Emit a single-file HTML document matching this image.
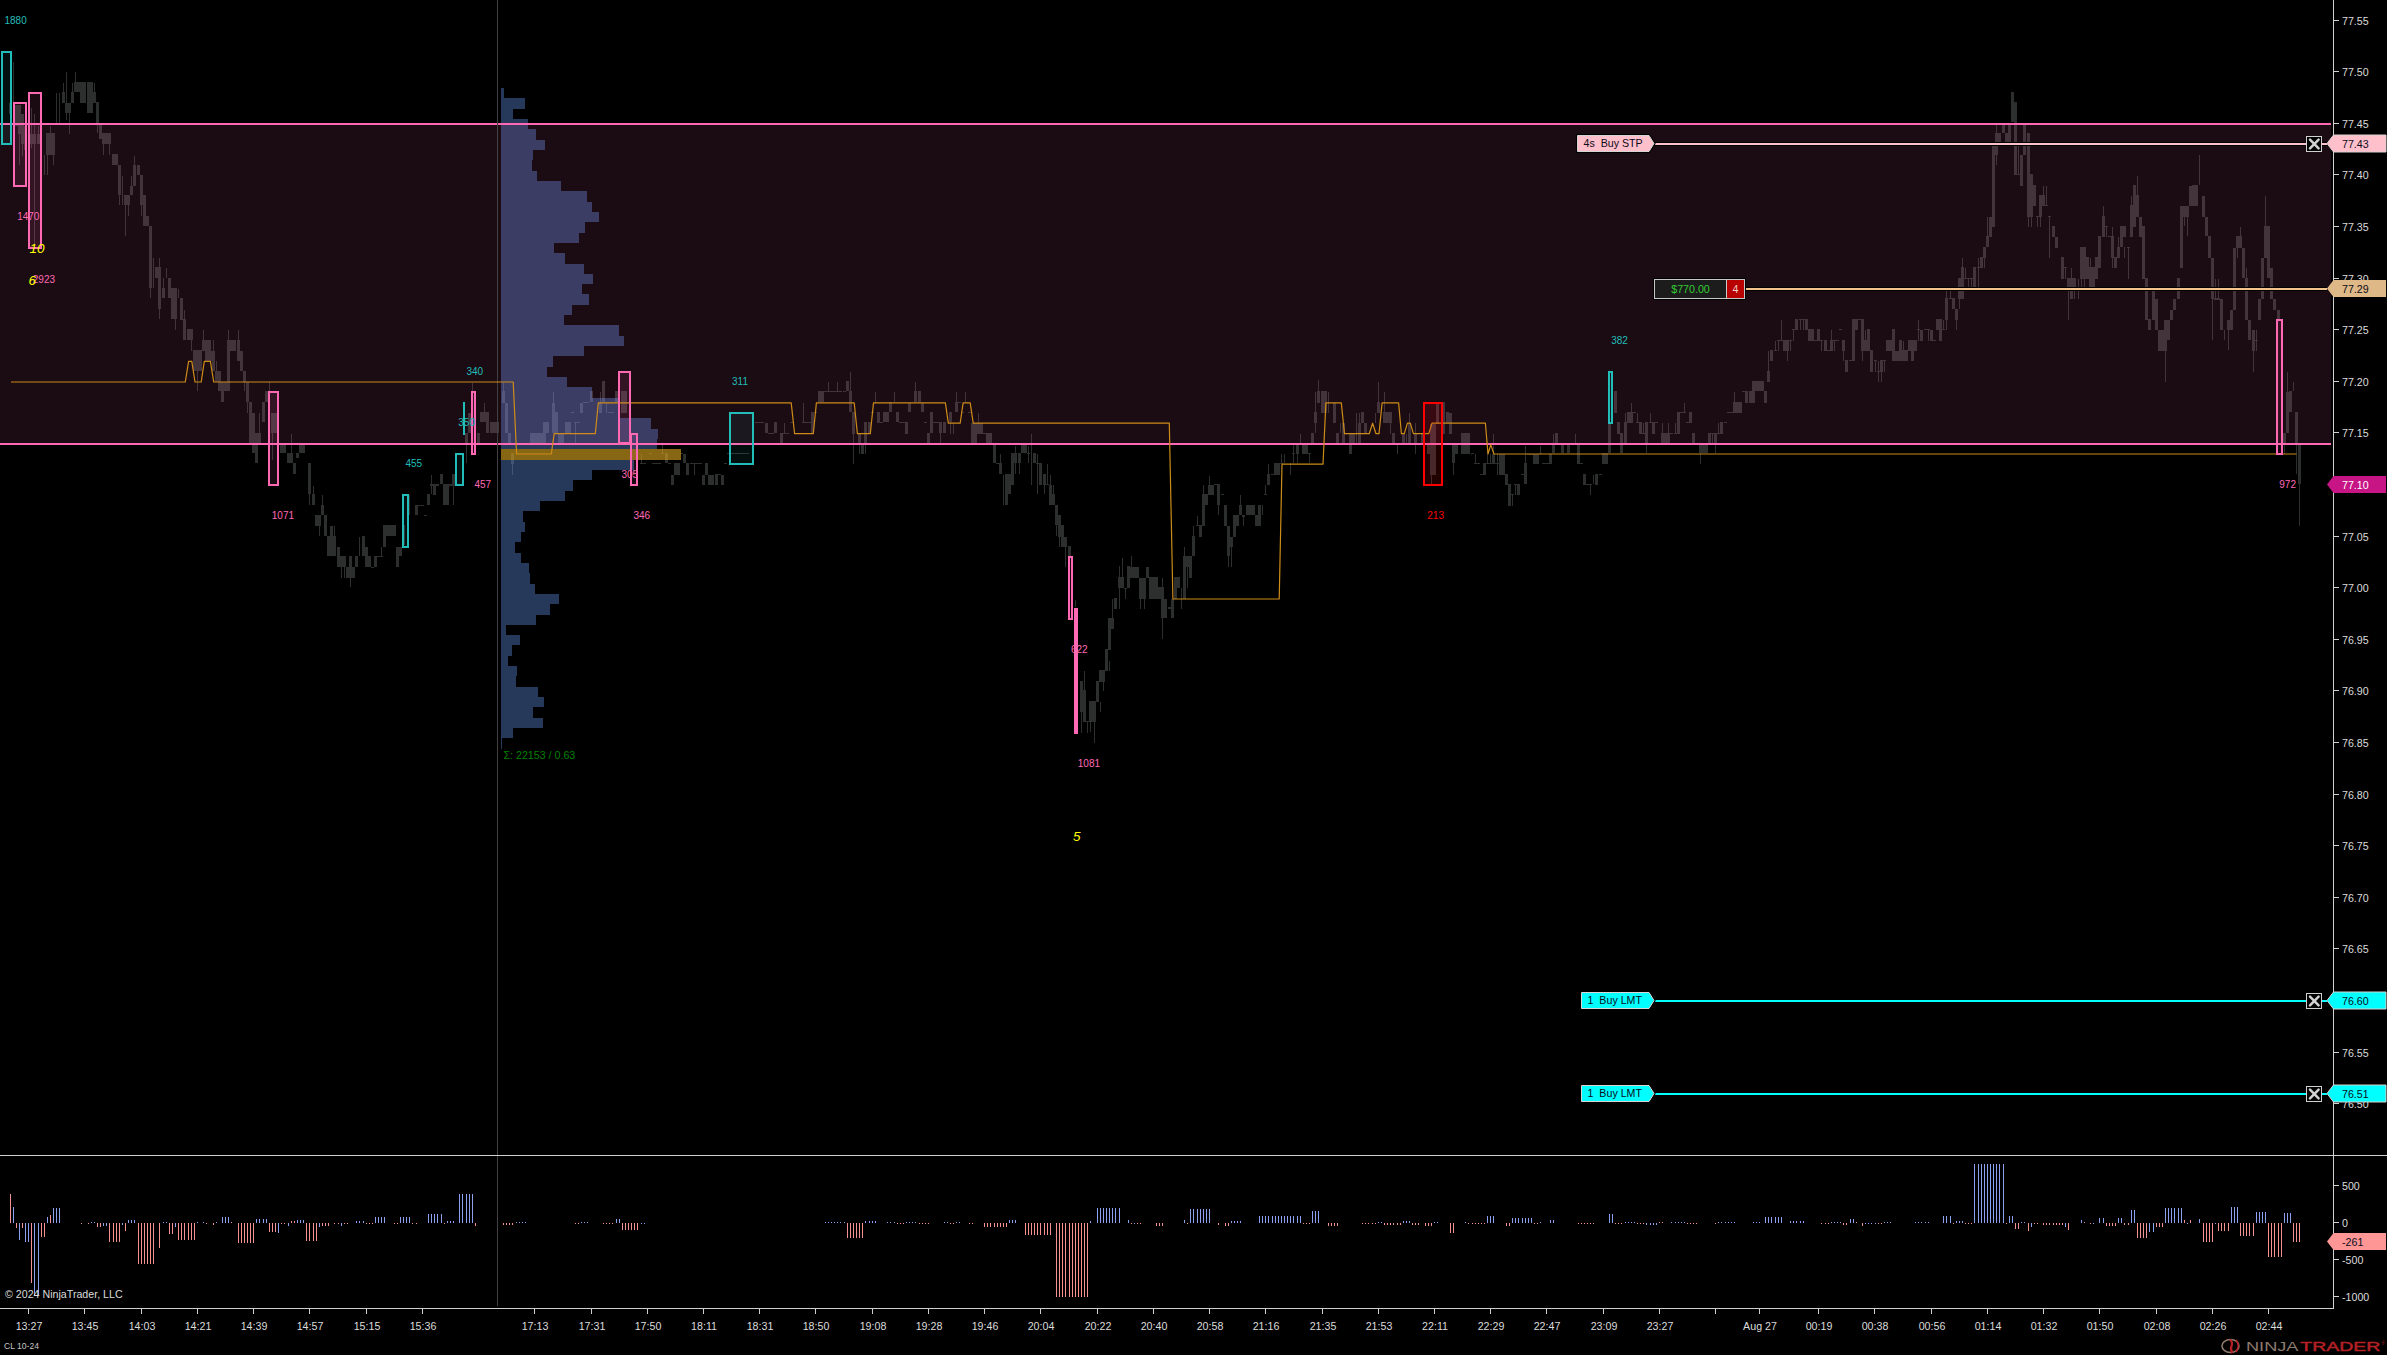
<!DOCTYPE html>
<html lang="en"><head><meta charset="utf-8"><title>CL 10-24 Chart</title>
<style>
html,body{margin:0;padding:0;background:#000;overflow:hidden}
body{width:2387px;height:1355px}
svg{display:block;font-family:"Liberation Sans", Arial, sans-serif;font-size:10.67px}
.ce{shape-rendering:crispEdges}
.ax{fill:#dcdcdc}
.pk{fill:#ff69b4;font-size:10px}.tl{fill:#22bdb8;font-size:10px}.yl{fill:#ffff00;font-style:italic;font-size:13.5px}
</style></head><body>
<svg width="2387" height="1355" viewBox="0 0 2387 1355">
<rect width="2387" height="1355" fill="#000"/>
<g class="ce" fill="#2d2e2e">
<rect x="9" y="103" width="3" height="11"/>
<rect x="15" y="105" width="3" height="21"/>
<rect x="18" y="105" width="3" height="29"/>
<rect x="21" y="114" width="3" height="30"/>
<rect x="24" y="126" width="3" height="24"/>
<rect x="30" y="134" width="3" height="10"/>
<rect x="33" y="134" width="3" height="10"/>
<rect x="37" y="134" width="3" height="10"/>
<rect x="46" y="133" width="9" height="22"/>
<rect x="62" y="92" width="3" height="11"/>
<rect x="65" y="103" width="6" height="10"/>
<rect x="71" y="92" width="3" height="11"/>
<rect x="74" y="82" width="12" height="10"/>
<rect x="80" y="92" width="6" height="11"/>
<rect x="87" y="82" width="6" height="31"/>
<rect x="93" y="92" width="3" height="11"/>
<rect x="96" y="102" width="3" height="21"/>
<rect x="99" y="124" width="3" height="15"/>
<rect x="102" y="133" width="9" height="11"/>
<rect x="112" y="154" width="6" height="11"/>
<rect x="118" y="165" width="3" height="30"/>
<rect x="124" y="195" width="6" height="10"/>
<rect x="130" y="186" width="3" height="9"/>
<rect x="133" y="165" width="3" height="21"/>
<rect x="137" y="165" width="3" height="10"/>
<rect x="140" y="175" width="3" height="30"/>
<rect x="143" y="195" width="3" height="21"/>
<rect x="143" y="216" width="6" height="10"/>
<rect x="149" y="226" width="3" height="62"/>
<rect x="155" y="267" width="6" height="11"/>
<rect x="158" y="278" width="3" height="31"/>
<rect x="162" y="288" width="3" height="10"/>
<rect x="168" y="278" width="3" height="20"/>
<rect x="171" y="288" width="6" height="31"/>
<rect x="180" y="298" width="3" height="21"/>
<rect x="183" y="319" width="3" height="11"/>
<rect x="13" y="62" width="1" height="52"/>
<rect x="19" y="126" width="1" height="39"/>
<rect x="22" y="144" width="1" height="12"/>
<rect x="22" y="126" width="1" height="30"/>
<rect x="34" y="114" width="1" height="131"/>
<rect x="38" y="126" width="1" height="18"/>
<rect x="31" y="108" width="1" height="40"/>
<rect x="44" y="155" width="1" height="20"/>
<rect x="47" y="155" width="1" height="20"/>
<rect x="53" y="155" width="1" height="10"/>
<rect x="50" y="126" width="1" height="7"/>
<rect x="56" y="93" width="1" height="30"/>
<rect x="59" y="93" width="1" height="30"/>
<rect x="63" y="83" width="1" height="9"/>
<rect x="66" y="72" width="1" height="48"/>
<rect x="69" y="113" width="1" height="21"/>
<rect x="75" y="72" width="1" height="10"/>
<rect x="72" y="83" width="1" height="9"/>
<rect x="94" y="83" width="1" height="9"/>
<rect x="97" y="123" width="1" height="10"/>
<rect x="103" y="144" width="1" height="11"/>
<rect x="109" y="144" width="1" height="11"/>
<rect x="119" y="195" width="1" height="10"/>
<rect x="122" y="176" width="1" height="29"/>
<rect x="125" y="205" width="1" height="31"/>
<rect x="128" y="205" width="1" height="11"/>
<rect x="131" y="176" width="1" height="10"/>
<rect x="134" y="156" width="1" height="9"/>
<rect x="141" y="205" width="1" height="11"/>
<rect x="144" y="195" width="1" height="11"/>
<rect x="150" y="288" width="1" height="10"/>
<rect x="153" y="258" width="1" height="30"/>
<rect x="159" y="258" width="1" height="61"/>
<rect x="166" y="268" width="1" height="10"/>
<rect x="163" y="278" width="1" height="10"/>
<rect x="175" y="319" width="1" height="11"/>
<rect x="178" y="289" width="1" height="9"/>
<rect x="180" y="310" width="3" height="10"/>
<rect x="183" y="320" width="3" height="20"/>
<rect x="187" y="329" width="6" height="11"/>
<rect x="193" y="350" width="9" height="21"/>
<rect x="202" y="340" width="9" height="11"/>
<rect x="205" y="351" width="10" height="10"/>
<rect x="212" y="351" width="3" height="20"/>
<rect x="215" y="371" width="6" height="11"/>
<rect x="218" y="382" width="12" height="9"/>
<rect x="221" y="391" width="3" height="11"/>
<rect x="227" y="340" width="3" height="42"/>
<rect x="230" y="340" width="6" height="11"/>
<rect x="237" y="340" width="3" height="21"/>
<rect x="240" y="351" width="3" height="20"/>
<rect x="243" y="371" width="3" height="11"/>
<rect x="246" y="382" width="3" height="20"/>
<rect x="249" y="402" width="3" height="11"/>
<rect x="249" y="413" width="6" height="31"/>
<rect x="252" y="433" width="6" height="20"/>
<rect x="255" y="453" width="3" height="10"/>
<rect x="258" y="433" width="3" height="11"/>
<rect x="262" y="402" width="3" height="20"/>
<rect x="265" y="391" width="3" height="11"/>
<rect x="271" y="413" width="6" height="20"/>
<rect x="280" y="445" width="6" height="8"/>
<rect x="287" y="453" width="6" height="10"/>
<rect x="293" y="463" width="3" height="11"/>
<rect x="296" y="453" width="3" height="5"/>
<rect x="299" y="445" width="6" height="8"/>
<rect x="308" y="463" width="3" height="31"/>
<rect x="312" y="494" width="3" height="11"/>
<rect x="315" y="515" width="6" height="11"/>
<rect x="321" y="505" width="3" height="10"/>
<rect x="324" y="515" width="3" height="21"/>
<rect x="327" y="536" width="9" height="20"/>
<rect x="330" y="526" width="3" height="10"/>
<rect x="337" y="556" width="9" height="11"/>
<rect x="337" y="547" width="3" height="9"/>
<rect x="346" y="567" width="9" height="11"/>
<rect x="349" y="556" width="3" height="11"/>
<rect x="355" y="556" width="3" height="11"/>
<rect x="362" y="536" width="3" height="11"/>
<rect x="362" y="547" width="6" height="9"/>
<rect x="365" y="556" width="6" height="11"/>
<rect x="371" y="567" width="3" height="1"/>
<rect x="374" y="556" width="3" height="11"/>
<rect x="377" y="556" width="6" height="1"/>
<rect x="383" y="525" width="7" height="11"/>
<rect x="383" y="536" width="3" height="11"/>
<rect x="390" y="525" width="6" height="11"/>
<rect x="396" y="547" width="6" height="9"/>
<rect x="396" y="556" width="3" height="11"/>
<rect x="402" y="525" width="3" height="20"/>
<rect x="415" y="505" width="3" height="10"/>
<rect x="415" y="505" width="9" height="1"/>
<rect x="424" y="515" width="3" height="1"/>
<rect x="427" y="494" width="3" height="11"/>
<rect x="430" y="484" width="9" height="2"/>
<rect x="433" y="484" width="3" height="11"/>
<rect x="440" y="474" width="3" height="10"/>
<rect x="443" y="484" width="6" height="21"/>
<rect x="449" y="484" width="6" height="2"/>
<rect x="452" y="474" width="3" height="10"/>
<rect x="465" y="433" width="3" height="11"/>
<rect x="468" y="413" width="3" height="20"/>
<rect x="477" y="433" width="3" height="11"/>
<rect x="480" y="412" width="9" height="10"/>
<rect x="486" y="422" width="3" height="11"/>
<rect x="490" y="422" width="9" height="11"/>
<rect x="184" y="310" width="1" height="10"/>
<rect x="191" y="340" width="1" height="11"/>
<rect x="203" y="330" width="1" height="10"/>
<rect x="197" y="371" width="1" height="20"/>
<rect x="213" y="340" width="1" height="11"/>
<rect x="216" y="361" width="1" height="10"/>
<rect x="228" y="330" width="1" height="10"/>
<rect x="238" y="330" width="1" height="10"/>
<rect x="222" y="391" width="1" height="11"/>
<rect x="244" y="382" width="1" height="9"/>
<rect x="247" y="402" width="1" height="11"/>
<rect x="253" y="413" width="1" height="20"/>
<rect x="259" y="413" width="1" height="20"/>
<rect x="256" y="453" width="1" height="10"/>
<rect x="269" y="382" width="1" height="9"/>
<rect x="272" y="413" width="1" height="47"/>
<rect x="291" y="434" width="1" height="19"/>
<rect x="294" y="463" width="1" height="11"/>
<rect x="309" y="463" width="1" height="42"/>
<rect x="313" y="486" width="1" height="8"/>
<rect x="319" y="526" width="1" height="10"/>
<rect x="322" y="495" width="1" height="10"/>
<rect x="331" y="526" width="1" height="10"/>
<rect x="334" y="526" width="1" height="10"/>
<rect x="341" y="567" width="1" height="11"/>
<rect x="344" y="567" width="1" height="11"/>
<rect x="350" y="578" width="1" height="9"/>
<rect x="359" y="537" width="1" height="19"/>
<rect x="363" y="536" width="1" height="11"/>
<rect x="381" y="547" width="1" height="9"/>
<rect x="384" y="536" width="1" height="11"/>
<rect x="409" y="495" width="1" height="20"/>
<rect x="416" y="505" width="1" height="10"/>
<rect x="431" y="475" width="1" height="19"/>
<rect x="441" y="474" width="1" height="10"/>
<rect x="453" y="484" width="1" height="21"/>
<rect x="466" y="444" width="1" height="19"/>
<rect x="469" y="413" width="1" height="8"/>
<rect x="472" y="383" width="1" height="8"/>
<rect x="484" y="403" width="1" height="9"/>
<rect x="478" y="433" width="1" height="11"/>
<rect x="496" y="422" width="3" height="11"/>
<rect x="502" y="391" width="3" height="12"/>
<rect x="505" y="403" width="3" height="30"/>
<rect x="508" y="433" width="3" height="11"/>
<rect x="511" y="453" width="3" height="11"/>
<rect x="530" y="433" width="16" height="11"/>
<rect x="543" y="422" width="6" height="11"/>
<rect x="552" y="403" width="3" height="30"/>
<rect x="555" y="412" width="3" height="21"/>
<rect x="558" y="433" width="3" height="11"/>
<rect x="561" y="433" width="3" height="11"/>
<rect x="565" y="422" width="6" height="11"/>
<rect x="571" y="412" width="3" height="1"/>
<rect x="574" y="422" width="6" height="1"/>
<rect x="580" y="403" width="3" height="10"/>
<rect x="583" y="402" width="6" height="1"/>
<rect x="590" y="391" width="3" height="11"/>
<rect x="599" y="403" width="3" height="10"/>
<rect x="602" y="381" width="3" height="21"/>
<rect x="608" y="412" width="6" height="1"/>
<rect x="615" y="391" width="3" height="11"/>
<rect x="621" y="391" width="6" height="22"/>
<rect x="640" y="463" width="6" height="1"/>
<rect x="649" y="453" width="3" height="1"/>
<rect x="652" y="463" width="9" height="1"/>
<rect x="661" y="453" width="3" height="1"/>
<rect x="665" y="453" width="3" height="10"/>
<rect x="668" y="463" width="3" height="1"/>
<rect x="671" y="475" width="3" height="10"/>
<rect x="674" y="463" width="6" height="12"/>
<rect x="680" y="453" width="3" height="1"/>
<rect x="683" y="454" width="3" height="9"/>
<rect x="686" y="463" width="3" height="12"/>
<rect x="690" y="463" width="12" height="1"/>
<rect x="705" y="463" width="3" height="12"/>
<rect x="702" y="475" width="3" height="10"/>
<rect x="708" y="475" width="6" height="10"/>
<rect x="715" y="474" width="3" height="1"/>
<rect x="715" y="475" width="3" height="10"/>
<rect x="718" y="474" width="3" height="1"/>
<rect x="721" y="475" width="3" height="10"/>
<rect x="724" y="463" width="3" height="1"/>
<rect x="727" y="453" width="3" height="1"/>
<rect x="730" y="453" width="19" height="1"/>
<rect x="755" y="422" width="9" height="1"/>
<rect x="765" y="423" width="3" height="10"/>
<rect x="768" y="433" width="6" height="1"/>
<rect x="774" y="422" width="3" height="11"/>
<rect x="780" y="433" width="3" height="11"/>
<rect x="783" y="433" width="6" height="1"/>
<rect x="790" y="422" width="3" height="1"/>
<rect x="802" y="422" width="9" height="1"/>
<rect x="811" y="412" width="3" height="21"/>
<rect x="814" y="412" width="3" height="1"/>
<rect x="818" y="391" width="6" height="11"/>
<rect x="824" y="391" width="12" height="1"/>
<rect x="512" y="453" width="1" height="22"/>
<rect x="553" y="392" width="1" height="11"/>
<rect x="575" y="423" width="1" height="21"/>
<rect x="600" y="392" width="1" height="11"/>
<rect x="606" y="403" width="1" height="10"/>
<rect x="641" y="454" width="1" height="9"/>
<rect x="662" y="445" width="1" height="9"/>
<rect x="694" y="463" width="1" height="12"/>
<rect x="784" y="423" width="1" height="10"/>
<rect x="803" y="403" width="1" height="20"/>
<rect x="828" y="382" width="1" height="9"/>
<rect x="503" y="382" width="1" height="9"/>
<rect x="830" y="391" width="12" height="1"/>
<rect x="843" y="391" width="3" height="1"/>
<rect x="846" y="381" width="3" height="10"/>
<rect x="849" y="391" width="3" height="21"/>
<rect x="852" y="412" width="3" height="22"/>
<rect x="858" y="434" width="3" height="10"/>
<rect x="861" y="444" width="3" height="10"/>
<rect x="864" y="422" width="3" height="22"/>
<rect x="868" y="422" width="3" height="12"/>
<rect x="871" y="412" width="3" height="1"/>
<rect x="877" y="412" width="3" height="10"/>
<rect x="877" y="422" width="6" height="1"/>
<rect x="883" y="412" width="6" height="10"/>
<rect x="889" y="402" width="3" height="10"/>
<rect x="896" y="412" width="3" height="10"/>
<rect x="899" y="422" width="6" height="1"/>
<rect x="905" y="422" width="3" height="12"/>
<rect x="908" y="403" width="3" height="9"/>
<rect x="914" y="391" width="3" height="11"/>
<rect x="918" y="391" width="3" height="11"/>
<rect x="921" y="403" width="3" height="9"/>
<rect x="924" y="422" width="3" height="1"/>
<rect x="927" y="433" width="3" height="10"/>
<rect x="930" y="412" width="3" height="21"/>
<rect x="933" y="422" width="6" height="1"/>
<rect x="939" y="422" width="3" height="11"/>
<rect x="943" y="422" width="3" height="11"/>
<rect x="949" y="412" width="3" height="10"/>
<rect x="955" y="402" width="3" height="10"/>
<rect x="958" y="402" width="3" height="1"/>
<rect x="961" y="412" width="3" height="1"/>
<rect x="968" y="412" width="3" height="1"/>
<rect x="971" y="423" width="6" height="20"/>
<rect x="977" y="423" width="6" height="11"/>
<rect x="983" y="433" width="9" height="1"/>
<rect x="986" y="434" width="3" height="9"/>
<rect x="989" y="434" width="3" height="9"/>
<rect x="993" y="445" width="3" height="18"/>
<rect x="996" y="463" width="3" height="1"/>
<rect x="999" y="463" width="3" height="11"/>
<rect x="1005" y="494" width="3" height="11"/>
<rect x="1005" y="474" width="6" height="20"/>
<rect x="1011" y="463" width="3" height="22"/>
<rect x="1011" y="453" width="6" height="10"/>
<rect x="1018" y="453" width="3" height="10"/>
<rect x="1021" y="445" width="6" height="8"/>
<rect x="1027" y="453" width="3" height="1"/>
<rect x="1033" y="453" width="3" height="10"/>
<rect x="1036" y="463" width="3" height="1"/>
<rect x="1039" y="463" width="3" height="22"/>
<rect x="1043" y="474" width="3" height="11"/>
<rect x="1046" y="484" width="3" height="1"/>
<rect x="1049" y="485" width="3" height="20"/>
<rect x="1052" y="494" width="3" height="11"/>
<rect x="1055" y="505" width="3" height="20"/>
<rect x="1058" y="515" width="3" height="10"/>
<rect x="1061" y="525" width="3" height="12"/>
<rect x="1064" y="546" width="3" height="1"/>
<rect x="1068" y="546" width="3" height="10"/>
<rect x="837" y="382" width="1" height="9"/>
<rect x="850" y="372" width="1" height="19"/>
<rect x="853" y="434" width="1" height="30"/>
<rect x="859" y="444" width="1" height="10"/>
<rect x="865" y="444" width="1" height="10"/>
<rect x="875" y="392" width="1" height="11"/>
<rect x="894" y="392" width="1" height="10"/>
<rect x="915" y="382" width="1" height="9"/>
<rect x="940" y="433" width="1" height="10"/>
<rect x="950" y="422" width="1" height="12"/>
<rect x="953" y="423" width="1" height="11"/>
<rect x="956" y="392" width="1" height="10"/>
<rect x="965" y="392" width="1" height="10"/>
<rect x="978" y="413" width="1" height="10"/>
<rect x="1000" y="454" width="1" height="9"/>
<rect x="1003" y="475" width="1" height="30"/>
<rect x="1015" y="446" width="1" height="28"/>
<rect x="1019" y="463" width="1" height="11"/>
<rect x="1028" y="446" width="1" height="17"/>
<rect x="1031" y="434" width="1" height="51"/>
<rect x="1037" y="454" width="1" height="40"/>
<rect x="1044" y="485" width="1" height="9"/>
<rect x="1047" y="464" width="1" height="21"/>
<rect x="1050" y="475" width="1" height="10"/>
<rect x="1053" y="485" width="1" height="9"/>
<rect x="1056" y="525" width="1" height="11"/>
<rect x="1059" y="525" width="1" height="22"/>
<rect x="1062" y="537" width="1" height="10"/>
<rect x="1065" y="537" width="1" height="23"/>
<rect x="1058" y="515" width="3" height="22"/>
<rect x="1061" y="525" width="3" height="22"/>
<rect x="1064" y="537" width="3" height="10"/>
<rect x="1068" y="546" width="3" height="10"/>
<rect x="1080" y="681" width="3" height="9"/>
<rect x="1080" y="690" width="6" height="22"/>
<rect x="1083" y="701" width="3" height="21"/>
<rect x="1086" y="721" width="3" height="1"/>
<rect x="1089" y="701" width="7" height="21"/>
<rect x="1096" y="681" width="3" height="21"/>
<rect x="1099" y="670" width="6" height="12"/>
<rect x="1105" y="649" width="3" height="22"/>
<rect x="1108" y="628" width="3" height="22"/>
<rect x="1108" y="618" width="6" height="11"/>
<rect x="1114" y="598" width="3" height="11"/>
<rect x="1118" y="577" width="6" height="11"/>
<rect x="1124" y="588" width="3" height="1"/>
<rect x="1127" y="566" width="3" height="22"/>
<rect x="1130" y="567" width="9" height="11"/>
<rect x="1139" y="578" width="7" height="21"/>
<rect x="1146" y="567" width="3" height="11"/>
<rect x="1149" y="577" width="9" height="22"/>
<rect x="1158" y="587" width="6" height="12"/>
<rect x="1161" y="599" width="6" height="19"/>
<rect x="1168" y="607" width="3" height="2"/>
<rect x="1171" y="599" width="3" height="19"/>
<rect x="1174" y="577" width="6" height="11"/>
<rect x="1174" y="588" width="3" height="11"/>
<rect x="1183" y="556" width="3" height="43"/>
<rect x="1186" y="556" width="6" height="11"/>
<rect x="1189" y="567" width="3" height="11"/>
<rect x="1192" y="536" width="3" height="20"/>
<rect x="1196" y="525" width="6" height="1"/>
<rect x="1199" y="526" width="3" height="11"/>
<rect x="1202" y="494" width="3" height="32"/>
<rect x="1205" y="494" width="3" height="11"/>
<rect x="1208" y="485" width="6" height="10"/>
<rect x="1214" y="484" width="6" height="1"/>
<rect x="1217" y="485" width="3" height="20"/>
<rect x="1221" y="494" width="3" height="1"/>
<rect x="1224" y="505" width="3" height="21"/>
<rect x="1227" y="526" width="3" height="30"/>
<rect x="1230" y="537" width="3" height="10"/>
<rect x="1233" y="515" width="3" height="22"/>
<rect x="1236" y="515" width="3" height="11"/>
<rect x="1239" y="505" width="3" height="10"/>
<rect x="1242" y="515" width="3" height="2"/>
<rect x="1246" y="505" width="9" height="10"/>
<rect x="1255" y="515" width="6" height="11"/>
<rect x="1258" y="505" width="3" height="10"/>
<rect x="1264" y="494" width="3" height="1"/>
<rect x="1267" y="474" width="3" height="11"/>
<rect x="1065" y="547" width="1" height="20"/>
<rect x="1059" y="515" width="1" height="10"/>
<rect x="1075" y="600" width="1" height="7"/>
<rect x="1084" y="671" width="1" height="19"/>
<rect x="1081" y="712" width="1" height="21"/>
<rect x="1087" y="722" width="1" height="11"/>
<rect x="1090" y="722" width="1" height="10"/>
<rect x="1094" y="722" width="1" height="21"/>
<rect x="1100" y="702" width="1" height="10"/>
<rect x="1103" y="682" width="1" height="9"/>
<rect x="1109" y="661" width="1" height="10"/>
<rect x="1112" y="599" width="1" height="19"/>
<rect x="1119" y="566" width="1" height="43"/>
<rect x="1125" y="588" width="1" height="11"/>
<rect x="1122" y="558" width="1" height="19"/>
<rect x="1131" y="556" width="1" height="11"/>
<rect x="1140" y="599" width="1" height="10"/>
<rect x="1144" y="599" width="1" height="10"/>
<rect x="1162" y="618" width="1" height="21"/>
<rect x="1162" y="578" width="1" height="10"/>
<rect x="1181" y="588" width="1" height="21"/>
<rect x="1184" y="547" width="1" height="9"/>
<rect x="1187" y="567" width="1" height="21"/>
<rect x="1193" y="526" width="1" height="11"/>
<rect x="1197" y="516" width="1" height="9"/>
<rect x="1203" y="485" width="1" height="9"/>
<rect x="1209" y="476" width="1" height="9"/>
<rect x="1218" y="505" width="1" height="10"/>
<rect x="1228" y="556" width="1" height="11"/>
<rect x="1231" y="547" width="1" height="20"/>
<rect x="1240" y="495" width="1" height="10"/>
<rect x="1243" y="517" width="1" height="9"/>
<rect x="1262" y="505" width="1" height="10"/>
<rect x="1265" y="485" width="1" height="9"/>
<rect x="1268" y="464" width="1" height="10"/>
<rect x="1271" y="474" width="3" height="1"/>
<rect x="1274" y="464" width="6" height="11"/>
<rect x="1274" y="463" width="9" height="1"/>
<rect x="1292" y="453" width="3" height="1"/>
<rect x="1296" y="445" width="3" height="9"/>
<rect x="1302" y="445" width="6" height="9"/>
<rect x="1308" y="453" width="3" height="1"/>
<rect x="1311" y="433" width="3" height="10"/>
<rect x="1314" y="412" width="3" height="11"/>
<rect x="1317" y="391" width="3" height="12"/>
<rect x="1321" y="391" width="6" height="22"/>
<rect x="1333" y="403" width="3" height="20"/>
<rect x="1336" y="433" width="3" height="10"/>
<rect x="1342" y="423" width="3" height="20"/>
<rect x="1349" y="434" width="3" height="20"/>
<rect x="1349" y="434" width="6" height="9"/>
<rect x="1358" y="423" width="3" height="20"/>
<rect x="1361" y="412" width="3" height="11"/>
<rect x="1364" y="423" width="3" height="11"/>
<rect x="1377" y="402" width="3" height="11"/>
<rect x="1383" y="412" width="9" height="11"/>
<rect x="1392" y="433" width="3" height="10"/>
<rect x="1402" y="434" width="3" height="9"/>
<rect x="1408" y="423" width="3" height="20"/>
<rect x="1414" y="434" width="3" height="9"/>
<rect x="1421" y="434" width="3" height="9"/>
<rect x="1427" y="445" width="3" height="9"/>
<rect x="1430" y="424" width="6" height="51"/>
<rect x="1436" y="404" width="3" height="20"/>
<rect x="1442" y="402" width="3" height="32"/>
<rect x="1446" y="412" width="3" height="11"/>
<rect x="1449" y="413" width="3" height="21"/>
<rect x="1452" y="445" width="6" height="9"/>
<rect x="1452" y="454" width="3" height="9"/>
<rect x="1461" y="433" width="9" height="21"/>
<rect x="1471" y="453" width="3" height="1"/>
<rect x="1474" y="463" width="6" height="1"/>
<rect x="1480" y="474" width="6" height="1"/>
<rect x="1483" y="463" width="3" height="12"/>
<rect x="1486" y="463" width="13" height="1"/>
<rect x="1492" y="454" width="3" height="9"/>
<rect x="1499" y="454" width="6" height="21"/>
<rect x="1505" y="474" width="3" height="11"/>
<rect x="1508" y="485" width="3" height="15"/>
<rect x="1281" y="454" width="1" height="9"/>
<rect x="1284" y="454" width="1" height="9"/>
<rect x="1290" y="463" width="1" height="12"/>
<rect x="1293" y="445" width="1" height="18"/>
<rect x="1297" y="445" width="1" height="18"/>
<rect x="1300" y="434" width="1" height="11"/>
<rect x="1309" y="454" width="1" height="9"/>
<rect x="1315" y="392" width="1" height="41"/>
<rect x="1318" y="380" width="1" height="11"/>
<rect x="1328" y="392" width="1" height="21"/>
<rect x="1340" y="423" width="1" height="10"/>
<rect x="1356" y="413" width="1" height="30"/>
<rect x="1359" y="413" width="1" height="10"/>
<rect x="1375" y="413" width="1" height="10"/>
<rect x="1378" y="382" width="1" height="20"/>
<rect x="1384" y="392" width="1" height="20"/>
<rect x="1390" y="413" width="1" height="21"/>
<rect x="1397" y="445" width="1" height="9"/>
<rect x="1406" y="434" width="1" height="9"/>
<rect x="1409" y="413" width="1" height="21"/>
<rect x="1415" y="423" width="1" height="31"/>
<rect x="1431" y="454" width="1" height="30"/>
<rect x="1453" y="463" width="1" height="12"/>
<rect x="1475" y="454" width="1" height="9"/>
<rect x="1487" y="445" width="1" height="18"/>
<rect x="1490" y="454" width="1" height="9"/>
<rect x="1493" y="434" width="1" height="20"/>
<rect x="1497" y="454" width="1" height="21"/>
<rect x="1499" y="454" width="3" height="9"/>
<rect x="1499" y="463" width="6" height="11"/>
<rect x="1505" y="474" width="3" height="10"/>
<rect x="1508" y="484" width="3" height="22"/>
<rect x="1511" y="494" width="3" height="1"/>
<rect x="1514" y="484" width="3" height="1"/>
<rect x="1517" y="484" width="3" height="11"/>
<rect x="1521" y="474" width="3" height="1"/>
<rect x="1524" y="463" width="3" height="21"/>
<rect x="1527" y="454" width="6" height="1"/>
<rect x="1533" y="454" width="6" height="10"/>
<rect x="1539" y="453" width="3" height="1"/>
<rect x="1542" y="463" width="7" height="1"/>
<rect x="1549" y="454" width="3" height="10"/>
<rect x="1552" y="445" width="3" height="8"/>
<rect x="1555" y="433" width="3" height="10"/>
<rect x="1561" y="445" width="3" height="8"/>
<rect x="1567" y="445" width="3" height="8"/>
<rect x="1577" y="445" width="3" height="19"/>
<rect x="1580" y="463" width="3" height="1"/>
<rect x="1583" y="474" width="3" height="11"/>
<rect x="1586" y="484" width="6" height="1"/>
<rect x="1595" y="474" width="3" height="11"/>
<rect x="1599" y="474" width="3" height="1"/>
<rect x="1602" y="453" width="6" height="11"/>
<rect x="1608" y="424" width="3" height="29"/>
<rect x="1614" y="391" width="3" height="22"/>
<rect x="1617" y="422" width="3" height="12"/>
<rect x="1620" y="433" width="3" height="20"/>
<rect x="1624" y="422" width="3" height="21"/>
<rect x="1627" y="412" width="6" height="11"/>
<rect x="1633" y="412" width="3" height="1"/>
<rect x="1636" y="422" width="3" height="1"/>
<rect x="1639" y="422" width="3" height="12"/>
<rect x="1642" y="433" width="3" height="1"/>
<rect x="1645" y="422" width="3" height="21"/>
<rect x="1649" y="422" width="9" height="1"/>
<rect x="1652" y="423" width="3" height="11"/>
<rect x="1661" y="433" width="9" height="10"/>
<rect x="1670" y="433" width="3" height="1"/>
<rect x="1674" y="433" width="3" height="1"/>
<rect x="1677" y="412" width="3" height="22"/>
<rect x="1680" y="412" width="6" height="1"/>
<rect x="1689" y="412" width="3" height="11"/>
<rect x="1686" y="422" width="3" height="1"/>
<rect x="1692" y="433" width="3" height="10"/>
<rect x="1699" y="445" width="9" height="8"/>
<rect x="1708" y="433" width="3" height="10"/>
<rect x="1714" y="433" width="3" height="10"/>
<rect x="1711" y="433" width="12" height="1"/>
<rect x="1720" y="422" width="3" height="12"/>
<rect x="1724" y="422" width="3" height="1"/>
<rect x="1727" y="412" width="6" height="1"/>
<rect x="1733" y="402" width="9" height="11"/>
<rect x="1742" y="391" width="3" height="1"/>
<rect x="1745" y="391" width="3" height="12"/>
<rect x="1749" y="391" width="6" height="12"/>
<rect x="1752" y="381" width="6" height="10"/>
<rect x="1758" y="381" width="6" height="1"/>
<rect x="1761" y="381" width="3" height="10"/>
<rect x="1764" y="391" width="3" height="12"/>
<rect x="1767" y="381" width="3" height="1"/>
<rect x="1512" y="495" width="1" height="11"/>
<rect x="1515" y="484" width="1" height="11"/>
<rect x="1525" y="446" width="1" height="17"/>
<rect x="1540" y="446" width="1" height="7"/>
<rect x="1553" y="434" width="1" height="11"/>
<rect x="1575" y="434" width="1" height="9"/>
<rect x="1590" y="485" width="1" height="10"/>
<rect x="1593" y="475" width="1" height="9"/>
<rect x="1625" y="413" width="1" height="9"/>
<rect x="1631" y="403" width="1" height="9"/>
<rect x="1637" y="413" width="1" height="9"/>
<rect x="1643" y="423" width="1" height="10"/>
<rect x="1646" y="445" width="1" height="8"/>
<rect x="1650" y="413" width="1" height="9"/>
<rect x="1662" y="423" width="1" height="10"/>
<rect x="1668" y="423" width="1" height="10"/>
<rect x="1675" y="423" width="1" height="10"/>
<rect x="1684" y="403" width="1" height="9"/>
<rect x="1700" y="453" width="1" height="11"/>
<rect x="1712" y="434" width="1" height="9"/>
<rect x="1715" y="445" width="1" height="8"/>
<rect x="1718" y="423" width="1" height="10"/>
<rect x="1734" y="392" width="1" height="10"/>
<rect x="1758" y="381" width="3" height="10"/>
<rect x="1764" y="391" width="3" height="12"/>
<rect x="1767" y="371" width="3" height="11"/>
<rect x="1770" y="350" width="3" height="11"/>
<rect x="1774" y="350" width="3" height="1"/>
<rect x="1777" y="340" width="6" height="1"/>
<rect x="1783" y="340" width="6" height="11"/>
<rect x="1789" y="340" width="3" height="1"/>
<rect x="1792" y="329" width="3" height="1"/>
<rect x="1795" y="319" width="3" height="11"/>
<rect x="1799" y="319" width="9" height="1"/>
<rect x="1805" y="320" width="3" height="10"/>
<rect x="1808" y="329" width="6" height="12"/>
<rect x="1814" y="340" width="3" height="1"/>
<rect x="1817" y="329" width="3" height="12"/>
<rect x="1820" y="340" width="3" height="1"/>
<rect x="1824" y="340" width="3" height="11"/>
<rect x="1827" y="350" width="3" height="1"/>
<rect x="1830" y="340" width="3" height="11"/>
<rect x="1833" y="340" width="6" height="1"/>
<rect x="1839" y="329" width="3" height="1"/>
<rect x="1842" y="340" width="3" height="11"/>
<rect x="1845" y="360" width="3" height="12"/>
<rect x="1849" y="360" width="6" height="1"/>
<rect x="1852" y="319" width="3" height="41"/>
<rect x="1855" y="319" width="3" height="11"/>
<rect x="1858" y="319" width="6" height="1"/>
<rect x="1861" y="320" width="3" height="31"/>
<rect x="1864" y="340" width="6" height="11"/>
<rect x="1867" y="329" width="3" height="11"/>
<rect x="1870" y="350" width="3" height="22"/>
<rect x="1874" y="360" width="3" height="1"/>
<rect x="1877" y="371" width="3" height="1"/>
<rect x="1880" y="360" width="3" height="12"/>
<rect x="1883" y="360" width="3" height="1"/>
<rect x="1886" y="340" width="6" height="11"/>
<rect x="1892" y="329" width="3" height="22"/>
<rect x="1892" y="351" width="10" height="10"/>
<rect x="1899" y="340" width="3" height="11"/>
<rect x="1902" y="350" width="6" height="11"/>
<rect x="1908" y="340" width="9" height="11"/>
<rect x="1911" y="351" width="3" height="10"/>
<rect x="1917" y="329" width="3" height="1"/>
<rect x="1920" y="330" width="3" height="11"/>
<rect x="1924" y="329" width="3" height="1"/>
<rect x="1927" y="329" width="3" height="1"/>
<rect x="1930" y="330" width="3" height="11"/>
<rect x="1933" y="340" width="3" height="1"/>
<rect x="1936" y="319" width="6" height="11"/>
<rect x="1939" y="330" width="3" height="11"/>
<rect x="1942" y="329" width="3" height="1"/>
<rect x="1945" y="298" width="3" height="22"/>
<rect x="1949" y="298" width="3" height="1"/>
<rect x="1952" y="298" width="3" height="11"/>
<rect x="1955" y="309" width="3" height="11"/>
<rect x="1958" y="278" width="3" height="21"/>
<rect x="1961" y="267" width="3" height="11"/>
<rect x="1964" y="278" width="9" height="1"/>
<rect x="1973" y="267" width="3" height="21"/>
<rect x="1977" y="267" width="3" height="1"/>
<rect x="1980" y="257" width="3" height="10"/>
<rect x="1983" y="247" width="3" height="11"/>
<rect x="1986" y="240" width="3" height="7"/>
<rect x="1768" y="351" width="1" height="20"/>
<rect x="1775" y="341" width="1" height="10"/>
<rect x="1778" y="341" width="1" height="10"/>
<rect x="1781" y="320" width="1" height="21"/>
<rect x="1787" y="351" width="1" height="10"/>
<rect x="1790" y="341" width="1" height="10"/>
<rect x="1793" y="330" width="1" height="11"/>
<rect x="1800" y="320" width="1" height="10"/>
<rect x="1803" y="320" width="1" height="10"/>
<rect x="1821" y="341" width="1" height="10"/>
<rect x="1831" y="330" width="1" height="10"/>
<rect x="1834" y="341" width="1" height="10"/>
<rect x="1843" y="351" width="1" height="10"/>
<rect x="1865" y="330" width="1" height="10"/>
<rect x="1862" y="351" width="1" height="10"/>
<rect x="1875" y="361" width="1" height="11"/>
<rect x="1878" y="361" width="1" height="21"/>
<rect x="1881" y="372" width="1" height="10"/>
<rect x="1884" y="361" width="1" height="11"/>
<rect x="1903" y="341" width="1" height="9"/>
<rect x="1918" y="320" width="1" height="21"/>
<rect x="1928" y="330" width="1" height="11"/>
<rect x="1943" y="320" width="1" height="10"/>
<rect x="1946" y="290" width="1" height="8"/>
<rect x="1946" y="320" width="1" height="10"/>
<rect x="1950" y="290" width="1" height="8"/>
<rect x="1956" y="320" width="1" height="10"/>
<rect x="1959" y="299" width="1" height="10"/>
<rect x="1962" y="258" width="1" height="9"/>
<rect x="1965" y="268" width="1" height="10"/>
<rect x="1968" y="279" width="1" height="9"/>
<rect x="1971" y="279" width="1" height="9"/>
<rect x="1978" y="258" width="1" height="30"/>
<rect x="1984" y="258" width="1" height="10"/>
<rect x="1961" y="278" width="3" height="21"/>
<rect x="1961" y="267" width="3" height="11"/>
<rect x="1964" y="278" width="9" height="1"/>
<rect x="1973" y="267" width="3" height="21"/>
<rect x="1977" y="267" width="3" height="1"/>
<rect x="1980" y="257" width="3" height="11"/>
<rect x="1983" y="247" width="3" height="11"/>
<rect x="1986" y="236" width="3" height="11"/>
<rect x="1989" y="217" width="3" height="20"/>
<rect x="1992" y="144" width="3" height="83"/>
<rect x="1995" y="133" width="3" height="22"/>
<rect x="1998" y="133" width="3" height="11"/>
<rect x="2002" y="125" width="3" height="8"/>
<rect x="2005" y="133" width="6" height="11"/>
<rect x="2008" y="125" width="3" height="8"/>
<rect x="2011" y="92" width="3" height="30"/>
<rect x="2014" y="102" width="3" height="73"/>
<rect x="2017" y="174" width="3" height="1"/>
<rect x="2020" y="155" width="3" height="31"/>
<rect x="2023" y="125" width="3" height="30"/>
<rect x="2027" y="133" width="3" height="84"/>
<rect x="2030" y="174" width="3" height="43"/>
<rect x="2033" y="185" width="3" height="21"/>
<rect x="2036" y="216" width="3" height="1"/>
<rect x="2039" y="195" width="3" height="22"/>
<rect x="2042" y="195" width="3" height="11"/>
<rect x="2045" y="205" width="3" height="1"/>
<rect x="2048" y="216" width="3" height="1"/>
<rect x="2052" y="226" width="3" height="11"/>
<rect x="2055" y="237" width="3" height="10"/>
<rect x="2055" y="247" width="3" height="1"/>
<rect x="2061" y="257" width="3" height="22"/>
<rect x="2064" y="267" width="3" height="1"/>
<rect x="2067" y="278" width="9" height="10"/>
<rect x="2070" y="288" width="3" height="11"/>
<rect x="2080" y="247" width="6" height="32"/>
<rect x="2086" y="257" width="3" height="22"/>
<rect x="2089" y="267" width="6" height="21"/>
<rect x="2095" y="257" width="3" height="22"/>
<rect x="2098" y="236" width="3" height="32"/>
<rect x="2102" y="216" width="3" height="21"/>
<rect x="2105" y="226" width="3" height="1"/>
<rect x="2108" y="236" width="3" height="1"/>
<rect x="2111" y="236" width="3" height="22"/>
<rect x="2114" y="257" width="3" height="11"/>
<rect x="2117" y="247" width="3" height="11"/>
<rect x="2120" y="226" width="6" height="11"/>
<rect x="2120" y="237" width="3" height="10"/>
<rect x="2127" y="247" width="3" height="1"/>
<rect x="2130" y="205" width="3" height="32"/>
<rect x="2133" y="185" width="3" height="42"/>
<rect x="2136" y="195" width="3" height="22"/>
<rect x="2139" y="217" width="3" height="20"/>
<rect x="2142" y="226" width="3" height="53"/>
<rect x="2145" y="278" width="3" height="42"/>
<rect x="2148" y="319" width="3" height="11"/>
<rect x="1962" y="258" width="1" height="9"/>
<rect x="1965" y="268" width="1" height="10"/>
<rect x="1968" y="279" width="1" height="9"/>
<rect x="1971" y="279" width="1" height="9"/>
<rect x="1978" y="258" width="1" height="30"/>
<rect x="1984" y="258" width="1" height="10"/>
<rect x="1987" y="217" width="1" height="20"/>
<rect x="1996" y="125" width="1" height="8"/>
<rect x="1996" y="155" width="1" height="10"/>
<rect x="2018" y="145" width="1" height="29"/>
<rect x="2028" y="217" width="1" height="10"/>
<rect x="2031" y="217" width="1" height="10"/>
<rect x="2037" y="217" width="1" height="10"/>
<rect x="2040" y="217" width="1" height="10"/>
<rect x="2043" y="186" width="1" height="9"/>
<rect x="2046" y="186" width="1" height="19"/>
<rect x="2049" y="217" width="1" height="41"/>
<rect x="2065" y="268" width="1" height="11"/>
<rect x="2068" y="288" width="1" height="32"/>
<rect x="2071" y="268" width="1" height="10"/>
<rect x="2074" y="288" width="1" height="11"/>
<rect x="2078" y="279" width="1" height="20"/>
<rect x="2081" y="279" width="1" height="9"/>
<rect x="2084" y="279" width="1" height="9"/>
<rect x="2090" y="258" width="1" height="9"/>
<rect x="2103" y="206" width="1" height="10"/>
<rect x="2106" y="227" width="1" height="10"/>
<rect x="2112" y="227" width="1" height="9"/>
<rect x="2112" y="258" width="1" height="10"/>
<rect x="2118" y="237" width="1" height="10"/>
<rect x="2124" y="247" width="1" height="11"/>
<rect x="2128" y="248" width="1" height="31"/>
<rect x="2131" y="196" width="1" height="9"/>
<rect x="2137" y="176" width="1" height="19"/>
<rect x="2152" y="288" width="3" height="32"/>
<rect x="2155" y="299" width="3" height="31"/>
<rect x="2158" y="330" width="3" height="21"/>
<rect x="2161" y="330" width="6" height="21"/>
<rect x="2164" y="320" width="6" height="20"/>
<rect x="2170" y="310" width="3" height="10"/>
<rect x="2173" y="299" width="3" height="11"/>
<rect x="2177" y="278" width="3" height="21"/>
<rect x="2180" y="206" width="3" height="62"/>
<rect x="2183" y="206" width="6" height="11"/>
<rect x="2189" y="186" width="3" height="20"/>
<rect x="2192" y="185" width="6" height="21"/>
<rect x="2202" y="206" width="3" height="11"/>
<rect x="2202" y="196" width="3" height="21"/>
<rect x="2205" y="217" width="3" height="19"/>
<rect x="2208" y="236" width="3" height="22"/>
<rect x="2211" y="258" width="3" height="41"/>
<rect x="2214" y="298" width="6" height="2"/>
<rect x="2220" y="299" width="3" height="31"/>
<rect x="2227" y="320" width="3" height="10"/>
<rect x="2230" y="310" width="3" height="20"/>
<rect x="2233" y="248" width="3" height="62"/>
<rect x="2236" y="236" width="6" height="12"/>
<rect x="2242" y="248" width="3" height="30"/>
<rect x="2245" y="278" width="3" height="42"/>
<rect x="2248" y="320" width="3" height="20"/>
<rect x="2252" y="330" width="3" height="21"/>
<rect x="2255" y="340" width="3" height="1"/>
<rect x="2258" y="299" width="3" height="21"/>
<rect x="2261" y="258" width="3" height="41"/>
<rect x="2264" y="226" width="6" height="32"/>
<rect x="2267" y="258" width="3" height="20"/>
<rect x="2270" y="268" width="3" height="31"/>
<rect x="2273" y="299" width="3" height="11"/>
<rect x="2277" y="310" width="3" height="10"/>
<rect x="2283" y="433" width="3" height="11"/>
<rect x="2286" y="392" width="3" height="41"/>
<rect x="2289" y="391" width="3" height="21"/>
<rect x="2295" y="412" width="3" height="32"/>
<rect x="2298" y="444" width="3" height="40"/>
<rect x="2159" y="340" width="1" height="11"/>
<rect x="2165" y="351" width="1" height="31"/>
<rect x="2187" y="217" width="1" height="19"/>
<rect x="2184" y="217" width="1" height="9"/>
<rect x="2199" y="155" width="1" height="30"/>
<rect x="2212" y="299" width="1" height="41"/>
<rect x="2215" y="279" width="1" height="20"/>
<rect x="2218" y="279" width="1" height="20"/>
<rect x="2224" y="330" width="1" height="10"/>
<rect x="2228" y="330" width="1" height="20"/>
<rect x="2240" y="227" width="1" height="9"/>
<rect x="2237" y="248" width="1" height="10"/>
<rect x="2246" y="268" width="1" height="10"/>
<rect x="2253" y="351" width="1" height="21"/>
<rect x="2256" y="330" width="1" height="21"/>
<rect x="2265" y="196" width="1" height="30"/>
<rect x="2281" y="360" width="1" height="84"/>
<rect x="2284" y="433" width="1" height="21"/>
<rect x="2287" y="372" width="1" height="20"/>
<rect x="2293" y="382" width="1" height="9"/>
<rect x="2299" y="484" width="1" height="42"/>
<rect x="2296" y="444" width="1" height="30"/>
</g>
<g class="ce">
<rect x="501" y="88" width="3" height="10" fill="rgb(100,149,237)" fill-opacity="0.385"/>
<rect x="501" y="98" width="24" height="11" fill="rgb(100,149,237)" fill-opacity="0.385"/>
<rect x="501" y="109" width="12" height="10" fill="rgb(100,149,237)" fill-opacity="0.385"/>
<rect x="501" y="119" width="27" height="10" fill="rgb(100,149,237)" fill-opacity="0.385"/>
<rect x="501" y="129" width="35" height="11" fill="rgb(100,149,237)" fill-opacity="0.385"/>
<rect x="501" y="140" width="44" height="10" fill="rgb(100,149,237)" fill-opacity="0.385"/>
<rect x="501" y="150" width="32" height="10" fill="rgb(100,149,237)" fill-opacity="0.385"/>
<rect x="501" y="160" width="31" height="11" fill="rgb(100,149,237)" fill-opacity="0.385"/>
<rect x="501" y="171" width="36" height="10" fill="rgb(100,149,237)" fill-opacity="0.385"/>
<rect x="501" y="181" width="60" height="10" fill="rgb(100,149,237)" fill-opacity="0.385"/>
<rect x="501" y="191" width="86" height="11" fill="rgb(100,149,237)" fill-opacity="0.385"/>
<rect x="501" y="202" width="91" height="10" fill="rgb(100,149,237)" fill-opacity="0.385"/>
<rect x="501" y="212" width="98" height="10" fill="rgb(100,149,237)" fill-opacity="0.385"/>
<rect x="501" y="222" width="84" height="11" fill="rgb(100,149,237)" fill-opacity="0.385"/>
<rect x="501" y="233" width="78" height="10" fill="rgb(100,149,237)" fill-opacity="0.385"/>
<rect x="501" y="243" width="53" height="10" fill="rgb(100,149,237)" fill-opacity="0.385"/>
<rect x="501" y="253" width="64" height="11" fill="rgb(100,149,237)" fill-opacity="0.385"/>
<rect x="501" y="264" width="83" height="10" fill="rgb(100,149,237)" fill-opacity="0.385"/>
<rect x="501" y="274" width="92" height="10" fill="rgb(100,149,237)" fill-opacity="0.385"/>
<rect x="501" y="284" width="81" height="10" fill="rgb(100,149,237)" fill-opacity="0.385"/>
<rect x="501" y="294" width="88" height="11" fill="rgb(100,149,237)" fill-opacity="0.385"/>
<rect x="501" y="305" width="71" height="10" fill="rgb(100,149,237)" fill-opacity="0.385"/>
<rect x="501" y="315" width="63" height="10" fill="rgb(100,149,237)" fill-opacity="0.385"/>
<rect x="501" y="325" width="118" height="11" fill="rgb(100,149,237)" fill-opacity="0.385"/>
<rect x="501" y="336" width="123" height="10" fill="rgb(100,149,237)" fill-opacity="0.385"/>
<rect x="501" y="346" width="83" height="10" fill="rgb(100,149,237)" fill-opacity="0.385"/>
<rect x="501" y="356" width="52" height="11" fill="rgb(100,149,237)" fill-opacity="0.385"/>
<rect x="501" y="367" width="46" height="10" fill="rgb(100,149,237)" fill-opacity="0.385"/>
<rect x="501" y="377" width="66" height="10" fill="rgb(100,149,237)" fill-opacity="0.385"/>
<rect x="501" y="387" width="91" height="11" fill="rgb(100,149,237)" fill-opacity="0.385"/>
<rect x="501" y="398" width="118" height="10" fill="rgb(100,149,237)" fill-opacity="0.385"/>
<rect x="501" y="408" width="118" height="10" fill="rgb(100,149,237)" fill-opacity="0.385"/>
<rect x="501" y="418" width="150" height="11" fill="rgb(100,149,237)" fill-opacity="0.385"/>
<rect x="501" y="429" width="157" height="10" fill="rgb(100,149,237)" fill-opacity="0.385"/>
<rect x="501" y="439" width="156" height="10" fill="rgb(100,149,237)" fill-opacity="0.385"/>
<rect x="501" y="449" width="180" height="11" fill="rgb(218,165,32)" fill-opacity="0.62"/>
<rect x="501" y="460" width="133" height="10" fill="rgb(100,149,237)" fill-opacity="0.385"/>
<rect x="501" y="470" width="91" height="10" fill="rgb(100,149,237)" fill-opacity="0.385"/>
<rect x="501" y="480" width="72" height="11" fill="rgb(100,149,237)" fill-opacity="0.385"/>
<rect x="501" y="491" width="64" height="10" fill="rgb(100,149,237)" fill-opacity="0.385"/>
<rect x="501" y="501" width="39" height="10" fill="rgb(100,149,237)" fill-opacity="0.385"/>
<rect x="501" y="511" width="22" height="11" fill="rgb(100,149,237)" fill-opacity="0.385"/>
<rect x="501" y="522" width="24" height="10" fill="rgb(100,149,237)" fill-opacity="0.385"/>
<rect x="501" y="532" width="20" height="10" fill="rgb(100,149,237)" fill-opacity="0.385"/>
<rect x="501" y="542" width="14" height="11" fill="rgb(100,149,237)" fill-opacity="0.385"/>
<rect x="501" y="553" width="20" height="10" fill="rgb(100,149,237)" fill-opacity="0.385"/>
<rect x="501" y="563" width="28" height="10" fill="rgb(100,149,237)" fill-opacity="0.385"/>
<rect x="501" y="573" width="29" height="11" fill="rgb(100,149,237)" fill-opacity="0.385"/>
<rect x="501" y="584" width="34" height="10" fill="rgb(100,149,237)" fill-opacity="0.385"/>
<rect x="501" y="594" width="58" height="10" fill="rgb(100,149,237)" fill-opacity="0.385"/>
<rect x="501" y="604" width="49" height="11" fill="rgb(100,149,237)" fill-opacity="0.385"/>
<rect x="501" y="615" width="35" height="10" fill="rgb(100,149,237)" fill-opacity="0.385"/>
<rect x="501" y="625" width="5" height="10" fill="rgb(100,149,237)" fill-opacity="0.385"/>
<rect x="501" y="635" width="19" height="10" fill="rgb(100,149,237)" fill-opacity="0.385"/>
<rect x="501" y="645" width="11" height="11" fill="rgb(100,149,237)" fill-opacity="0.385"/>
<rect x="501" y="656" width="7" height="10" fill="rgb(100,149,237)" fill-opacity="0.385"/>
<rect x="501" y="666" width="16" height="10" fill="rgb(100,149,237)" fill-opacity="0.385"/>
<rect x="501" y="676" width="15" height="11" fill="rgb(100,149,237)" fill-opacity="0.385"/>
<rect x="501" y="687" width="37" height="10" fill="rgb(100,149,237)" fill-opacity="0.385"/>
<rect x="501" y="697" width="43" height="10" fill="rgb(100,149,237)" fill-opacity="0.385"/>
<rect x="501" y="707" width="32" height="11" fill="rgb(100,149,237)" fill-opacity="0.385"/>
<rect x="501" y="718" width="42" height="10" fill="rgb(100,149,237)" fill-opacity="0.385"/>
<rect x="501" y="728" width="12" height="10" fill="rgb(100,149,237)" fill-opacity="0.385"/>
<rect x="501" y="738" width="1" height="11" fill="rgb(100,149,237)" fill-opacity="0.385"/>
</g>
<rect class="ce" x="0" y="124" width="2331" height="320" fill="rgb(255,105,180)" fill-opacity="0.105"/>
<rect class="ce" x="0" y="123" width="2331" height="2" fill="#ff69b4"/>
<rect class="ce" x="0" y="443" width="2331" height="2" fill="#ff69b4"/>
<rect class="ce" x="497" y="0" width="1" height="1306" fill="#404040"/>
<polyline points="11.0,382.0 185.3,382.0 188.6,361.4 191.8,361.4 195.0,382.0 201.2,382.0 204.3,361.4 210.4,361.4 213.7,382.0 513.2,382.0 516.6,454.0 551.3,454.0 554.2,433.7 595.3,433.7 598.3,402.9 791.2,402.9 794.6,433.7 813.3,433.7 816.4,402.9 854.2,402.9 857.4,433.7 870.3,433.7 873.5,402.9 945.4,402.9 948.3,423.2 960.2,423.2 963.1,402.9 970.2,402.9 973.2,423.2 1169.3,423.2 1172.9,599.0 1279.2,599.0 1282.0,464.2 1323.0,464.2 1325.9,402.9 1341.3,402.9 1344.5,433.7 1369.2,433.7 1372.6,423.2 1376.0,433.7 1379.0,433.7 1382.1,402.9 1398.6,402.9 1401.4,433.7 1404.3,433.7 1407.4,423.2 1410.3,423.2 1413.4,433.7 1428.8,433.7 1432.0,423.2 1485.4,423.2 1488.0,454.0 1490.8,444.6 1493.9,454.0 2296.5,454.0" fill="none" stroke="rgb(205,140,25)" stroke-width="1.2" stroke-linejoin="round"/>
<g class="ce">
<rect x="2" y="52" width="9" height="92" fill="#22bdb8" fill-opacity="0.08" stroke="#22bdb8" stroke-width="2"/>
<rect x="14" y="103" width="12" height="83" fill="#ff69b4" fill-opacity="0.1" stroke="#ff69b4" stroke-width="2"/>
<rect x="29" y="93" width="12" height="155" fill="#ff69b4" fill-opacity="0.1" stroke="#ff69b4" stroke-width="2"/>
<rect x="269" y="392" width="9" height="93" fill="#ff69b4" fill-opacity="0.1" stroke="#ff69b4" stroke-width="2"/>
<rect x="403" y="495" width="5" height="52" fill="#22bdb8" fill-opacity="0.08" stroke="#22bdb8" stroke-width="2"/>
<rect x="456" y="454" width="7" height="31" fill="#22bdb8" fill-opacity="0.08" stroke="#22bdb8" stroke-width="2"/>
<rect x="463" y="402" width="2" height="33" fill="#22bdb8"/>
<rect x="472" y="392" width="3" height="62" fill="#ff69b4" fill-opacity="0.1" stroke="#ff69b4" stroke-width="2"/>
<rect x="619" y="372" width="11" height="71" fill="#ff69b4" fill-opacity="0.1" stroke="#ff69b4" stroke-width="2"/>
<rect x="631" y="434" width="6" height="51" fill="#ff69b4" fill-opacity="0.1" stroke="#ff69b4" stroke-width="2"/>
<rect x="730" y="413" width="23" height="51" fill="#22bdb8" fill-opacity="0.08" stroke="#22bdb8" stroke-width="2"/>
<rect x="1069" y="557" width="3" height="62" fill="#ff69b4" fill-opacity="0.1" stroke="#ff69b4" stroke-width="2"/>
<rect x="1074" y="608" width="4" height="126" fill="#ff69b4"/>
<rect x="1424" y="403" width="18" height="82" fill="#ff0000" fill-opacity="0.13" stroke="#ff0000" stroke-width="2"/>
<rect x="1609" y="372" width="3" height="51" fill="#22bdb8" fill-opacity="0.08" stroke="#22bdb8" stroke-width="2"/>
<rect x="2277" y="320" width="5" height="134" fill="#ff69b4" fill-opacity="0.1" stroke="#ff69b4" stroke-width="2"/>
</g>
<text x="4.5" y="24" class="tl">1880</text>
<text x="17.2" y="220" class="pk">1470</text>
<text x="32.8" y="282.5" class="pk">2923</text>
<text x="29.5" y="252.5" class="yl">10</text>
<text x="28.5" y="284.5" class="yl">6</text>
<text x="271.8" y="518.8" class="pk">1071</text>
<text x="466.5" y="375" class="tl">340</text>
<text x="458.3" y="425.8" class="tl">350</text>
<text x="405.5" y="466.8" class="tl">455</text>
<text x="474.5" y="487.8" class="pk">457</text>
<text x="621.5" y="477.8" class="pk">305</text>
<text x="633.5" y="518.8" class="pk">346</text>
<text x="732" y="385" class="tl">311</text>
<text x="1071" y="653" class="pk">622</text>
<text x="1077.8" y="767.2" class="pk">1081</text>
<text x="1073" y="841.3" class="yl">5</text>
<text x="1427.3" y="518.8" fill="#ff0000" font-size="10px">213</text>
<text x="1611.2" y="344" class="tl">382</text>
<text x="2279.3" y="487.8" class="pk">972</text>
<text x="503.5" y="758.6" fill="#008000">&#931;: 22153 / 0.63</text>
<g class="ce">
<rect x="1650" y="142" width="677" height="4" fill="#000"/><rect x="1650" y="143" width="677" height="2" fill="#ffc0cb"/>
<rect x="1745" y="287" width="582" height="4" fill="#000"/><rect x="1745" y="288" width="582" height="2" fill="#f0c48c"/>
<rect x="1650" y="999" width="677" height="4" fill="#000"/><rect x="1650" y="1000" width="677" height="2" fill="#00ffff"/>
<rect x="1650" y="1092" width="677" height="4" fill="#000"/><rect x="1650" y="1093" width="677" height="2" fill="#00ffff"/>
</g>
<polygon points="1577.5,135.5 1649,135.5 1654,143.5 1649,151.5 1577.5,151.5" fill="#000" stroke="#000" stroke-width="3"/>
<polygon points="1577.5,135.5 1649,135.5 1654,143.5 1649,151.5 1577.5,151.5" fill="#ffc0cb" stroke="#d8d4d4" stroke-width="1"/>
<text x="1583.5" y="146.9" fill="#0a0a18" xml:space="preserve">4s  Buy STP</text>
<polygon points="1581.5,992.5 1649,992.5 1654,1000.5 1649,1008.5 1581.5,1008.5" fill="#000" stroke="#000" stroke-width="3"/>
<polygon points="1581.5,992.5 1649,992.5 1654,1000.5 1649,1008.5 1581.5,1008.5" fill="#00ffff" stroke="#d8d4d4" stroke-width="1"/>
<text x="1587.5" y="1003.9" fill="#0a0a18" xml:space="preserve">1  Buy LMT</text>
<polygon points="1581.5,1085.5 1649,1085.5 1654,1093.5 1649,1101.5 1581.5,1101.5" fill="#000" stroke="#000" stroke-width="3"/>
<polygon points="1581.5,1085.5 1649,1085.5 1654,1093.5 1649,1101.5 1581.5,1101.5" fill="#00ffff" stroke="#d8d4d4" stroke-width="1"/>
<text x="1587.5" y="1096.9" fill="#0a0a18" xml:space="preserve">1  Buy LMT</text>
<g class="ce"><rect x="1653" y="278" width="93" height="22" fill="#000"/><rect x="1654.5" y="279.5" width="90" height="19" fill="#1c1c1c" stroke="#c8c8c8" stroke-width="1"/>
<rect x="1727" y="280" width="17" height="18" fill="#b80000"/><rect x="1726" y="280" width="1" height="18" fill="#c8c8c8"/></g>
<text x="1690.5" y="293" fill="#32cd32" text-anchor="middle">$770.00</text>
<text x="1735.5" y="293" fill="#f0d0d0" text-anchor="middle">4</text>
<rect class="ce" x="2306.5" y="136.5" width="15" height="15" fill="#000" stroke="#d0d0d0" stroke-width="1"/>
<path d="M2310 139.7 l8.6 8.6 m0 -8.6 l-8.6 8.6" stroke="#d2d2d2" stroke-width="2.5" stroke-linecap="round" fill="none"/>
<rect class="ce" x="2306.5" y="993.5" width="15" height="15" fill="#000" stroke="#d0d0d0" stroke-width="1"/>
<path d="M2310 996.7 l8.6 8.6 m0 -8.6 l-8.6 8.6" stroke="#d2d2d2" stroke-width="2.5" stroke-linecap="round" fill="none"/>
<rect class="ce" x="2306.5" y="1086.5" width="15" height="15" fill="#000" stroke="#d0d0d0" stroke-width="1"/>
<path d="M2310 1089.7 l8.6 8.6 m0 -8.6 l-8.6 8.6" stroke="#d2d2d2" stroke-width="2.5" stroke-linecap="round" fill="none"/>
<g class="ce" fill="#d0d0d0">
<rect x="2333" y="0" width="1" height="1309"/>
<rect x="0" y="1155" width="2387" height="1"/>
<rect x="0" y="1308" width="2334" height="1"/>
<rect x="2334" y="20" width="5" height="1"/>
<rect x="2334" y="71" width="5" height="1"/>
<rect x="2334" y="123" width="5" height="1"/>
<rect x="2334" y="174" width="5" height="1"/>
<rect x="2334" y="226" width="5" height="1"/>
<rect x="2334" y="278" width="5" height="1"/>
<rect x="2334" y="329" width="5" height="1"/>
<rect x="2334" y="381" width="5" height="1"/>
<rect x="2334" y="432" width="5" height="1"/>
<rect x="2334" y="484" width="5" height="1"/>
<rect x="2334" y="536" width="5" height="1"/>
<rect x="2334" y="587" width="5" height="1"/>
<rect x="2334" y="639" width="5" height="1"/>
<rect x="2334" y="690" width="5" height="1"/>
<rect x="2334" y="742" width="5" height="1"/>
<rect x="2334" y="794" width="5" height="1"/>
<rect x="2334" y="845" width="5" height="1"/>
<rect x="2334" y="897" width="5" height="1"/>
<rect x="2334" y="948" width="5" height="1"/>
<rect x="2334" y="1000" width="5" height="1"/>
<rect x="2334" y="1052" width="5" height="1"/>
<rect x="2334" y="1103" width="5" height="1"/>
<rect x="2334" y="1185" width="5" height="1"/>
<rect x="2334" y="1222" width="5" height="1"/>
<rect x="2334" y="1259" width="5" height="1"/>
<rect x="2334" y="1296" width="5" height="1"/>
<rect x="28" y="1309" width="1" height="5"/>
<rect x="84" y="1309" width="1" height="5"/>
<rect x="141" y="1309" width="1" height="5"/>
<rect x="197" y="1309" width="1" height="5"/>
<rect x="253" y="1309" width="1" height="5"/>
<rect x="309" y="1309" width="1" height="5"/>
<rect x="366" y="1309" width="1" height="5"/>
<rect x="422" y="1309" width="1" height="5"/>
<rect x="534" y="1309" width="1" height="5"/>
<rect x="591" y="1309" width="1" height="5"/>
<rect x="647" y="1309" width="1" height="5"/>
<rect x="703" y="1309" width="1" height="5"/>
<rect x="759" y="1309" width="1" height="5"/>
<rect x="815" y="1309" width="1" height="5"/>
<rect x="872" y="1309" width="1" height="5"/>
<rect x="928" y="1309" width="1" height="5"/>
<rect x="984" y="1309" width="1" height="5"/>
<rect x="1040" y="1309" width="1" height="5"/>
<rect x="1097" y="1309" width="1" height="5"/>
<rect x="1153" y="1309" width="1" height="5"/>
<rect x="1209" y="1309" width="1" height="5"/>
<rect x="1265" y="1309" width="1" height="5"/>
<rect x="1322" y="1309" width="1" height="5"/>
<rect x="1378" y="1309" width="1" height="5"/>
<rect x="1434" y="1309" width="1" height="5"/>
<rect x="1490" y="1309" width="1" height="5"/>
<rect x="1546" y="1309" width="1" height="5"/>
<rect x="1603" y="1309" width="1" height="5"/>
<rect x="1659" y="1309" width="1" height="5"/>
<rect x="1715" y="1309" width="1" height="5"/>
<rect x="1759" y="1309" width="1" height="5"/>
<rect x="1818" y="1309" width="1" height="5"/>
<rect x="1874" y="1309" width="1" height="5"/>
<rect x="1931" y="1309" width="1" height="5"/>
<rect x="1987" y="1309" width="1" height="5"/>
<rect x="2043" y="1309" width="1" height="5"/>
<rect x="2099" y="1309" width="1" height="5"/>
<rect x="2156" y="1309" width="1" height="5"/>
<rect x="2212" y="1309" width="1" height="5"/>
<rect x="2268" y="1309" width="1" height="5"/>
</g>
<g class="ax">
<text x="2342" y="24.6">77.55</text>
<text x="2342" y="75.6">77.50</text>
<text x="2342" y="127.6">77.45</text>
<text x="2342" y="178.6">77.40</text>
<text x="2342" y="230.6">77.35</text>
<text x="2342" y="282.6">77.30</text>
<text x="2342" y="333.6">77.25</text>
<text x="2342" y="385.6">77.20</text>
<text x="2342" y="436.6">77.15</text>
<text x="2342" y="488.6">77.10</text>
<text x="2342" y="540.6">77.05</text>
<text x="2342" y="591.6">77.00</text>
<text x="2342" y="643.6">76.95</text>
<text x="2342" y="694.6">76.90</text>
<text x="2342" y="746.6">76.85</text>
<text x="2342" y="798.6">76.80</text>
<text x="2342" y="849.6">76.75</text>
<text x="2342" y="901.6">76.70</text>
<text x="2342" y="952.6">76.65</text>
<text x="2342" y="1004.6">76.60</text>
<text x="2342" y="1056.6">76.55</text>
<text x="2342" y="1107.6">76.50</text>
<text x="2342" y="1189.5">500</text>
<text x="2342" y="1226.5">0</text>
<text x="2342" y="1263.5">-500</text>
<text x="2342" y="1300.5">-1000</text>
<text x="29" y="1329.6" text-anchor="middle">13:27</text>
<text x="85" y="1329.6" text-anchor="middle">13:45</text>
<text x="142" y="1329.6" text-anchor="middle">14:03</text>
<text x="198" y="1329.6" text-anchor="middle">14:21</text>
<text x="254" y="1329.6" text-anchor="middle">14:39</text>
<text x="310" y="1329.6" text-anchor="middle">14:57</text>
<text x="367" y="1329.6" text-anchor="middle">15:15</text>
<text x="423" y="1329.6" text-anchor="middle">15:36</text>
<text x="535" y="1329.6" text-anchor="middle">17:13</text>
<text x="592" y="1329.6" text-anchor="middle">17:31</text>
<text x="648" y="1329.6" text-anchor="middle">17:50</text>
<text x="704" y="1329.6" text-anchor="middle">18:11</text>
<text x="760" y="1329.6" text-anchor="middle">18:31</text>
<text x="816" y="1329.6" text-anchor="middle">18:50</text>
<text x="873" y="1329.6" text-anchor="middle">19:08</text>
<text x="929" y="1329.6" text-anchor="middle">19:28</text>
<text x="985" y="1329.6" text-anchor="middle">19:46</text>
<text x="1041" y="1329.6" text-anchor="middle">20:04</text>
<text x="1098" y="1329.6" text-anchor="middle">20:22</text>
<text x="1154" y="1329.6" text-anchor="middle">20:40</text>
<text x="1210" y="1329.6" text-anchor="middle">20:58</text>
<text x="1266" y="1329.6" text-anchor="middle">21:16</text>
<text x="1323" y="1329.6" text-anchor="middle">21:35</text>
<text x="1379" y="1329.6" text-anchor="middle">21:53</text>
<text x="1435" y="1329.6" text-anchor="middle">22:11</text>
<text x="1491" y="1329.6" text-anchor="middle">22:29</text>
<text x="1547" y="1329.6" text-anchor="middle">22:47</text>
<text x="1604" y="1329.6" text-anchor="middle">23:09</text>
<text x="1660" y="1329.6" text-anchor="middle">23:27</text>
<text x="1760" y="1329.6" text-anchor="middle">Aug 27</text>
<text x="1819" y="1329.6" text-anchor="middle">00:19</text>
<text x="1875" y="1329.6" text-anchor="middle">00:38</text>
<text x="1932" y="1329.6" text-anchor="middle">00:56</text>
<text x="1988" y="1329.6" text-anchor="middle">01:14</text>
<text x="2044" y="1329.6" text-anchor="middle">01:32</text>
<text x="2100" y="1329.6" text-anchor="middle">01:50</text>
<text x="2157" y="1329.6" text-anchor="middle">02:08</text>
<text x="2213" y="1329.6" text-anchor="middle">02:26</text>
<text x="2269" y="1329.6" text-anchor="middle">02:44</text>
<text x="4" y="1348.8" font-size="9px" fill="#c4c4c4" textLength="35" lengthAdjust="spacingAndGlyphs">CL 10-24</text>
</g>
<polygon points="2327,143.5 2333.5,135 2386,135 2386,152 2333.5,152" fill="#ffc0cb" stroke="#d8d0d0" stroke-width="1"/>
<text x="2342" y="147.5" fill="#0a0a18">77.43</text>
<polygon points="2327,288.5 2333.5,280 2386,280 2386,297 2333.5,297" fill="#deb887"/>
<text x="2342" y="292.5" fill="#0a0a18">77.29</text>
<polygon points="2327,484.5 2333.5,476 2386,476 2386,493 2333.5,493" fill="#c71585"/>
<text x="2342" y="488.5" fill="#ffffff">77.10</text>
<polygon points="2327,1000.5 2333.5,992 2386,992 2386,1009 2333.5,1009" fill="#00ffff" stroke="#d8d0d0" stroke-width="1"/>
<text x="2342" y="1004.5" fill="#0a0a18">76.60</text>
<polygon points="2327,1093.5 2333.5,1085 2386,1085 2386,1102 2333.5,1102" fill="#00ffff" stroke="#d8d0d0" stroke-width="1"/>
<text x="2342" y="1097.5" fill="#0a0a18">76.51</text>
<polygon points="2327,1241.5 2333.5,1233 2386,1233 2386,1250 2333.5,1250" fill="#ff9696"/>
<text x="2342" y="1245.5" fill="#0a0a18">-261</text>
<g class="ce">
<rect x="10" y="1194" width="1" height="29" fill="#f59191"/>
<rect x="13" y="1207" width="1" height="16" fill="#8ca0f0"/>
<rect x="16" y="1223" width="1" height="5" fill="#f59191"/>
<rect x="19" y="1223" width="1" height="17" fill="#8ca0f0"/>
<rect x="22" y="1223" width="1" height="5" fill="#f59191"/>
<rect x="25" y="1223" width="1" height="19" fill="#8ca0f0"/>
<rect x="28" y="1223" width="1" height="19" fill="#8ca0f0"/>
<rect x="31" y="1223" width="1" height="60" fill="#f59191"/>
<rect x="34" y="1223" width="1" height="72" fill="#8ca0f0"/>
<rect x="38" y="1223" width="1" height="72" fill="#8ca0f0"/>
<rect x="41" y="1223" width="1" height="14" fill="#f59191"/>
<rect x="44" y="1223" width="1" height="14" fill="#f59191"/>
<rect x="47" y="1217" width="1" height="6" fill="#8ca0f0"/>
<rect x="50" y="1215" width="1" height="8" fill="#f59191"/>
<rect x="53" y="1208" width="1" height="15" fill="#8ca0f0"/>
<rect x="56" y="1208" width="1" height="15" fill="#8ca0f0"/>
<rect x="59" y="1208" width="1" height="15" fill="#8ca0f0"/>
<rect x="81" y="1223" width="1" height="1" fill="#f59191"/>
<rect x="88" y="1223" width="1" height="1" fill="#f59191"/>
<rect x="91" y="1222" width="1" height="1" fill="#8ca0f0"/>
<rect x="94" y="1222" width="1" height="1" fill="#8ca0f0"/>
<rect x="97" y="1223" width="1" height="4" fill="#f59191"/>
<rect x="100" y="1223" width="1" height="4" fill="#f59191"/>
<rect x="103" y="1223" width="1" height="3" fill="#8ca0f0"/>
<rect x="106" y="1223" width="1" height="3" fill="#8ca0f0"/>
<rect x="109" y="1223" width="1" height="19" fill="#f59191"/>
<rect x="113" y="1223" width="1" height="19" fill="#f59191"/>
<rect x="116" y="1223" width="1" height="19" fill="#f59191"/>
<rect x="119" y="1223" width="1" height="19" fill="#f59191"/>
<rect x="122" y="1223" width="1" height="2" fill="#8ca0f0"/>
<rect x="125" y="1223" width="1" height="8" fill="#f59191"/>
<rect x="128" y="1220" width="1" height="3" fill="#8ca0f0"/>
<rect x="131" y="1220" width="1" height="3" fill="#8ca0f0"/>
<rect x="134" y="1220" width="1" height="3" fill="#8ca0f0"/>
<rect x="138" y="1223" width="1" height="41" fill="#f59191"/>
<rect x="141" y="1223" width="1" height="41" fill="#f59191"/>
<rect x="144" y="1223" width="1" height="41" fill="#f59191"/>
<rect x="147" y="1223" width="1" height="41" fill="#f59191"/>
<rect x="150" y="1223" width="1" height="41" fill="#f59191"/>
<rect x="153" y="1223" width="1" height="41" fill="#f59191"/>
<rect x="159" y="1223" width="1" height="25" fill="#f59191"/>
<rect x="163" y="1222" width="1" height="1" fill="#8ca0f0"/>
<rect x="166" y="1222" width="1" height="1" fill="#8ca0f0"/>
<rect x="169" y="1223" width="1" height="11" fill="#f59191"/>
<rect x="172" y="1223" width="1" height="11" fill="#f59191"/>
<rect x="175" y="1223" width="1" height="4" fill="#8ca0f0"/>
<rect x="178" y="1223" width="1" height="17" fill="#f59191"/>
<rect x="181" y="1223" width="1" height="17" fill="#f59191"/>
<rect x="184" y="1223" width="1" height="17" fill="#f59191"/>
<rect x="188" y="1223" width="1" height="17" fill="#f59191"/>
<rect x="191" y="1223" width="1" height="17" fill="#f59191"/>
<rect x="194" y="1223" width="1" height="17" fill="#f59191"/>
<rect x="197" y="1222" width="1" height="1" fill="#8ca0f0"/>
<rect x="203" y="1222" width="1" height="1" fill="#8ca0f0"/>
<rect x="206" y="1223" width="1" height="1" fill="#f59191"/>
<rect x="213" y="1223" width="1" height="2" fill="#f59191"/>
<rect x="216" y="1222" width="1" height="1" fill="#8ca0f0"/>
<rect x="222" y="1217" width="1" height="6" fill="#8ca0f0"/>
<rect x="225" y="1217" width="1" height="6" fill="#8ca0f0"/>
<rect x="228" y="1217" width="1" height="6" fill="#8ca0f0"/>
<rect x="231" y="1222" width="1" height="1" fill="#f59191"/>
<rect x="238" y="1223" width="1" height="20" fill="#f59191"/>
<rect x="241" y="1223" width="1" height="20" fill="#f59191"/>
<rect x="244" y="1223" width="1" height="20" fill="#f59191"/>
<rect x="247" y="1223" width="1" height="20" fill="#f59191"/>
<rect x="250" y="1223" width="1" height="20" fill="#f59191"/>
<rect x="253" y="1223" width="1" height="20" fill="#f59191"/>
<rect x="256" y="1219" width="1" height="4" fill="#8ca0f0"/>
<rect x="259" y="1219" width="1" height="4" fill="#8ca0f0"/>
<rect x="263" y="1219" width="1" height="4" fill="#8ca0f0"/>
<rect x="266" y="1219" width="1" height="4" fill="#8ca0f0"/>
<rect x="269" y="1223" width="1" height="9" fill="#f59191"/>
<rect x="272" y="1223" width="1" height="9" fill="#f59191"/>
<rect x="275" y="1223" width="1" height="9" fill="#f59191"/>
<rect x="278" y="1223" width="1" height="10" fill="#8ca0f0"/>
<rect x="281" y="1223" width="1" height="1" fill="#f59191"/>
<rect x="284" y="1223" width="1" height="1" fill="#f59191"/>
<rect x="288" y="1223" width="1" height="3" fill="#8ca0f0"/>
<rect x="291" y="1221" width="1" height="2" fill="#f59191"/>
<rect x="294" y="1221" width="1" height="2" fill="#f59191"/>
<rect x="297" y="1220" width="1" height="3" fill="#8ca0f0"/>
<rect x="300" y="1220" width="1" height="3" fill="#8ca0f0"/>
<rect x="303" y="1220" width="1" height="3" fill="#8ca0f0"/>
<rect x="306" y="1223" width="1" height="18" fill="#f59191"/>
<rect x="309" y="1223" width="1" height="18" fill="#f59191"/>
<rect x="313" y="1223" width="1" height="18" fill="#f59191"/>
<rect x="316" y="1223" width="1" height="18" fill="#f59191"/>
<rect x="319" y="1223" width="1" height="4" fill="#8ca0f0"/>
<rect x="322" y="1223" width="1" height="3" fill="#f59191"/>
<rect x="325" y="1223" width="1" height="3" fill="#f59191"/>
<rect x="328" y="1223" width="1" height="3" fill="#f59191"/>
<rect x="334" y="1223" width="1" height="1" fill="#f59191"/>
<rect x="338" y="1223" width="1" height="1" fill="#f59191"/>
<rect x="341" y="1223" width="1" height="3" fill="#8ca0f0"/>
<rect x="344" y="1223" width="1" height="1" fill="#f59191"/>
<rect x="347" y="1223" width="1" height="1" fill="#f59191"/>
<rect x="356" y="1221" width="1" height="2" fill="#8ca0f0"/>
<rect x="359" y="1221" width="1" height="2" fill="#8ca0f0"/>
<rect x="363" y="1221" width="1" height="2" fill="#8ca0f0"/>
<rect x="366" y="1223" width="1" height="1" fill="#f59191"/>
<rect x="369" y="1223" width="1" height="1" fill="#f59191"/>
<rect x="372" y="1223" width="1" height="1" fill="#f59191"/>
<rect x="375" y="1217" width="1" height="6" fill="#8ca0f0"/>
<rect x="378" y="1217" width="1" height="6" fill="#8ca0f0"/>
<rect x="381" y="1217" width="1" height="6" fill="#8ca0f0"/>
<rect x="384" y="1217" width="1" height="6" fill="#8ca0f0"/>
<rect x="394" y="1223" width="1" height="1" fill="#f59191"/>
<rect x="397" y="1223" width="1" height="1" fill="#f59191"/>
<rect x="400" y="1217" width="1" height="6" fill="#8ca0f0"/>
<rect x="403" y="1217" width="1" height="6" fill="#8ca0f0"/>
<rect x="406" y="1217" width="1" height="6" fill="#8ca0f0"/>
<rect x="409" y="1217" width="1" height="6" fill="#8ca0f0"/>
<rect x="412" y="1223" width="1" height="1" fill="#f59191"/>
<rect x="416" y="1223" width="1" height="1" fill="#f59191"/>
<rect x="428" y="1214" width="1" height="9" fill="#8ca0f0"/>
<rect x="431" y="1214" width="1" height="9" fill="#8ca0f0"/>
<rect x="434" y="1214" width="1" height="9" fill="#8ca0f0"/>
<rect x="437" y="1214" width="1" height="9" fill="#8ca0f0"/>
<rect x="441" y="1214" width="1" height="9" fill="#8ca0f0"/>
<rect x="444" y="1223" width="1" height="1" fill="#f59191"/>
<rect x="447" y="1221" width="1" height="2" fill="#8ca0f0"/>
<rect x="450" y="1221" width="1" height="2" fill="#8ca0f0"/>
<rect x="453" y="1221" width="1" height="2" fill="#8ca0f0"/>
<rect x="459" y="1194" width="1" height="29" fill="#8ca0f0"/>
<rect x="462" y="1194" width="1" height="29" fill="#8ca0f0"/>
<rect x="466" y="1194" width="1" height="29" fill="#8ca0f0"/>
<rect x="469" y="1194" width="1" height="29" fill="#8ca0f0"/>
<rect x="472" y="1194" width="1" height="29" fill="#8ca0f0"/>
<rect x="475" y="1223" width="1" height="3" fill="#f59191"/>
<rect x="503" y="1223" width="1" height="2" fill="#f59191"/>
<rect x="506" y="1223" width="1" height="2" fill="#f59191"/>
<rect x="509" y="1223" width="1" height="2" fill="#f59191"/>
<rect x="512" y="1223" width="1" height="2" fill="#f59191"/>
<rect x="516" y="1222" width="1" height="1" fill="#8ca0f0"/>
<rect x="519" y="1222" width="1" height="1" fill="#8ca0f0"/>
<rect x="522" y="1222" width="1" height="1" fill="#8ca0f0"/>
<rect x="525" y="1222" width="1" height="1" fill="#8ca0f0"/>
<rect x="575" y="1223" width="1" height="1" fill="#f59191"/>
<rect x="578" y="1223" width="1" height="1" fill="#f59191"/>
<rect x="581" y="1222" width="1" height="1" fill="#8ca0f0"/>
<rect x="584" y="1222" width="1" height="1" fill="#8ca0f0"/>
<rect x="587" y="1222" width="1" height="1" fill="#8ca0f0"/>
<rect x="603" y="1223" width="1" height="1" fill="#f59191"/>
<rect x="606" y="1223" width="1" height="1" fill="#f59191"/>
<rect x="609" y="1223" width="1" height="1" fill="#f59191"/>
<rect x="612" y="1223" width="1" height="1" fill="#f59191"/>
<rect x="616" y="1219" width="1" height="4" fill="#8ca0f0"/>
<rect x="619" y="1219" width="1" height="4" fill="#8ca0f0"/>
<rect x="622" y="1223" width="1" height="7" fill="#f59191"/>
<rect x="625" y="1223" width="1" height="7" fill="#f59191"/>
<rect x="628" y="1223" width="1" height="7" fill="#f59191"/>
<rect x="631" y="1223" width="1" height="7" fill="#f59191"/>
<rect x="634" y="1223" width="1" height="7" fill="#f59191"/>
<rect x="637" y="1223" width="1" height="7" fill="#f59191"/>
<rect x="641" y="1223" width="1" height="1" fill="#8ca0f0"/>
<rect x="644" y="1223" width="1" height="1" fill="#8ca0f0"/>
<rect x="825" y="1222" width="1" height="1" fill="#8ca0f0"/>
<rect x="828" y="1222" width="1" height="1" fill="#8ca0f0"/>
<rect x="831" y="1222" width="1" height="1" fill="#8ca0f0"/>
<rect x="834" y="1222" width="1" height="1" fill="#8ca0f0"/>
<rect x="837" y="1222" width="1" height="1" fill="#8ca0f0"/>
<rect x="840" y="1222" width="1" height="1" fill="#8ca0f0"/>
<rect x="844" y="1222" width="1" height="1" fill="#8ca0f0"/>
<rect x="847" y="1223" width="1" height="15" fill="#f59191"/>
<rect x="850" y="1223" width="1" height="15" fill="#f59191"/>
<rect x="853" y="1223" width="1" height="15" fill="#f59191"/>
<rect x="856" y="1223" width="1" height="15" fill="#f59191"/>
<rect x="859" y="1223" width="1" height="15" fill="#f59191"/>
<rect x="862" y="1223" width="1" height="15" fill="#f59191"/>
<rect x="865" y="1221" width="1" height="2" fill="#8ca0f0"/>
<rect x="869" y="1221" width="1" height="2" fill="#8ca0f0"/>
<rect x="872" y="1221" width="1" height="2" fill="#8ca0f0"/>
<rect x="875" y="1221" width="1" height="2" fill="#8ca0f0"/>
<rect x="887" y="1222" width="1" height="1" fill="#8ca0f0"/>
<rect x="890" y="1222" width="1" height="1" fill="#8ca0f0"/>
<rect x="894" y="1222" width="1" height="1" fill="#8ca0f0"/>
<rect x="897" y="1223" width="1" height="1" fill="#f59191"/>
<rect x="900" y="1223" width="1" height="1" fill="#f59191"/>
<rect x="903" y="1223" width="1" height="1" fill="#f59191"/>
<rect x="906" y="1222" width="1" height="1" fill="#8ca0f0"/>
<rect x="909" y="1222" width="1" height="1" fill="#8ca0f0"/>
<rect x="912" y="1222" width="1" height="1" fill="#8ca0f0"/>
<rect x="915" y="1222" width="1" height="1" fill="#8ca0f0"/>
<rect x="919" y="1223" width="1" height="1" fill="#f59191"/>
<rect x="922" y="1223" width="1" height="1" fill="#f59191"/>
<rect x="925" y="1223" width="1" height="1" fill="#f59191"/>
<rect x="928" y="1223" width="1" height="1" fill="#f59191"/>
<rect x="944" y="1222" width="1" height="1" fill="#8ca0f0"/>
<rect x="947" y="1222" width="1" height="1" fill="#8ca0f0"/>
<rect x="950" y="1223" width="1" height="1" fill="#f59191"/>
<rect x="953" y="1223" width="1" height="1" fill="#f59191"/>
<rect x="956" y="1222" width="1" height="1" fill="#8ca0f0"/>
<rect x="959" y="1222" width="1" height="1" fill="#8ca0f0"/>
<rect x="969" y="1223" width="1" height="1" fill="#f59191"/>
<rect x="972" y="1223" width="1" height="1" fill="#f59191"/>
<rect x="984" y="1223" width="1" height="4" fill="#f59191"/>
<rect x="987" y="1223" width="1" height="4" fill="#f59191"/>
<rect x="990" y="1223" width="1" height="4" fill="#f59191"/>
<rect x="994" y="1223" width="1" height="4" fill="#f59191"/>
<rect x="997" y="1223" width="1" height="4" fill="#f59191"/>
<rect x="1000" y="1223" width="1" height="4" fill="#f59191"/>
<rect x="1003" y="1223" width="1" height="4" fill="#f59191"/>
<rect x="1006" y="1223" width="1" height="4" fill="#f59191"/>
<rect x="1009" y="1220" width="1" height="3" fill="#8ca0f0"/>
<rect x="1012" y="1220" width="1" height="3" fill="#8ca0f0"/>
<rect x="1015" y="1220" width="1" height="3" fill="#8ca0f0"/>
<rect x="1025" y="1223" width="1" height="12" fill="#f59191"/>
<rect x="1028" y="1223" width="1" height="12" fill="#f59191"/>
<rect x="1031" y="1223" width="1" height="12" fill="#f59191"/>
<rect x="1034" y="1223" width="1" height="12" fill="#f59191"/>
<rect x="1037" y="1223" width="1" height="12" fill="#f59191"/>
<rect x="1040" y="1223" width="1" height="12" fill="#f59191"/>
<rect x="1044" y="1223" width="1" height="12" fill="#f59191"/>
<rect x="1047" y="1223" width="1" height="12" fill="#f59191"/>
<rect x="1050" y="1223" width="1" height="12" fill="#f59191"/>
<rect x="1056" y="1223" width="1" height="74" fill="#f59191"/>
<rect x="1059" y="1223" width="1" height="74" fill="#f59191"/>
<rect x="1062" y="1223" width="1" height="74" fill="#f59191"/>
<rect x="1065" y="1223" width="1" height="74" fill="#f59191"/>
<rect x="1069" y="1223" width="1" height="74" fill="#f59191"/>
<rect x="1072" y="1223" width="1" height="74" fill="#f59191"/>
<rect x="1075" y="1223" width="1" height="74" fill="#f59191"/>
<rect x="1078" y="1223" width="1" height="74" fill="#f59191"/>
<rect x="1081" y="1223" width="1" height="74" fill="#f59191"/>
<rect x="1084" y="1223" width="1" height="74" fill="#f59191"/>
<rect x="1087" y="1223" width="1" height="74" fill="#f59191"/>
<rect x="1090" y="1221" width="1" height="2" fill="#8ca0f0"/>
<rect x="1097" y="1208" width="1" height="15" fill="#8ca0f0"/>
<rect x="1100" y="1208" width="1" height="15" fill="#8ca0f0"/>
<rect x="1103" y="1208" width="1" height="15" fill="#8ca0f0"/>
<rect x="1106" y="1208" width="1" height="15" fill="#8ca0f0"/>
<rect x="1109" y="1208" width="1" height="15" fill="#8ca0f0"/>
<rect x="1112" y="1208" width="1" height="15" fill="#8ca0f0"/>
<rect x="1115" y="1208" width="1" height="15" fill="#8ca0f0"/>
<rect x="1119" y="1208" width="1" height="15" fill="#8ca0f0"/>
<rect x="1128" y="1220" width="1" height="3" fill="#8ca0f0"/>
<rect x="1131" y="1223" width="1" height="1" fill="#f59191"/>
<rect x="1134" y="1223" width="1" height="1" fill="#8ca0f0"/>
<rect x="1137" y="1223" width="1" height="1" fill="#f59191"/>
<rect x="1140" y="1223" width="1" height="1" fill="#f59191"/>
<rect x="1156" y="1223" width="1" height="3" fill="#f59191"/>
<rect x="1159" y="1223" width="1" height="3" fill="#f59191"/>
<rect x="1162" y="1223" width="1" height="3" fill="#f59191"/>
<rect x="1184" y="1220" width="1" height="3" fill="#8ca0f0"/>
<rect x="1187" y="1223" width="1" height="1" fill="#f59191"/>
<rect x="1190" y="1209" width="1" height="14" fill="#8ca0f0"/>
<rect x="1193" y="1209" width="1" height="14" fill="#8ca0f0"/>
<rect x="1197" y="1209" width="1" height="14" fill="#8ca0f0"/>
<rect x="1200" y="1209" width="1" height="14" fill="#8ca0f0"/>
<rect x="1203" y="1209" width="1" height="14" fill="#8ca0f0"/>
<rect x="1206" y="1209" width="1" height="14" fill="#8ca0f0"/>
<rect x="1209" y="1209" width="1" height="14" fill="#8ca0f0"/>
<rect x="1218" y="1223" width="1" height="2" fill="#f59191"/>
<rect x="1225" y="1223" width="1" height="3" fill="#f59191"/>
<rect x="1228" y="1223" width="1" height="3" fill="#f59191"/>
<rect x="1231" y="1221" width="1" height="2" fill="#8ca0f0"/>
<rect x="1234" y="1221" width="1" height="2" fill="#8ca0f0"/>
<rect x="1237" y="1221" width="1" height="2" fill="#8ca0f0"/>
<rect x="1240" y="1221" width="1" height="2" fill="#8ca0f0"/>
<rect x="1259" y="1216" width="1" height="7" fill="#8ca0f0"/>
<rect x="1262" y="1216" width="1" height="7" fill="#8ca0f0"/>
<rect x="1265" y="1216" width="1" height="7" fill="#8ca0f0"/>
<rect x="1268" y="1216" width="1" height="7" fill="#8ca0f0"/>
<rect x="1272" y="1216" width="1" height="7" fill="#8ca0f0"/>
<rect x="1275" y="1216" width="1" height="7" fill="#8ca0f0"/>
<rect x="1278" y="1216" width="1" height="7" fill="#8ca0f0"/>
<rect x="1281" y="1216" width="1" height="7" fill="#8ca0f0"/>
<rect x="1284" y="1216" width="1" height="7" fill="#8ca0f0"/>
<rect x="1287" y="1216" width="1" height="7" fill="#8ca0f0"/>
<rect x="1290" y="1216" width="1" height="7" fill="#8ca0f0"/>
<rect x="1293" y="1216" width="1" height="7" fill="#8ca0f0"/>
<rect x="1297" y="1216" width="1" height="7" fill="#8ca0f0"/>
<rect x="1300" y="1216" width="1" height="7" fill="#8ca0f0"/>
<rect x="1303" y="1223" width="1" height="1" fill="#f59191"/>
<rect x="1306" y="1223" width="1" height="1" fill="#f59191"/>
<rect x="1309" y="1223" width="1" height="1" fill="#f59191"/>
<rect x="1312" y="1211" width="1" height="12" fill="#8ca0f0"/>
<rect x="1315" y="1211" width="1" height="12" fill="#8ca0f0"/>
<rect x="1318" y="1211" width="1" height="12" fill="#8ca0f0"/>
<rect x="1328" y="1223" width="1" height="3" fill="#f59191"/>
<rect x="1331" y="1223" width="1" height="3" fill="#f59191"/>
<rect x="1334" y="1223" width="1" height="3" fill="#f59191"/>
<rect x="1337" y="1223" width="1" height="3" fill="#f59191"/>
<rect x="1362" y="1223" width="1" height="1" fill="#f59191"/>
<rect x="1365" y="1223" width="1" height="1" fill="#f59191"/>
<rect x="1368" y="1223" width="1" height="1" fill="#f59191"/>
<rect x="1372" y="1223" width="1" height="1" fill="#f59191"/>
<rect x="1375" y="1223" width="1" height="1" fill="#f59191"/>
<rect x="1378" y="1222" width="1" height="1" fill="#8ca0f0"/>
<rect x="1381" y="1222" width="1" height="1" fill="#8ca0f0"/>
<rect x="1384" y="1223" width="1" height="2" fill="#f59191"/>
<rect x="1387" y="1223" width="1" height="2" fill="#f59191"/>
<rect x="1390" y="1223" width="1" height="2" fill="#f59191"/>
<rect x="1393" y="1223" width="1" height="2" fill="#f59191"/>
<rect x="1397" y="1223" width="1" height="2" fill="#f59191"/>
<rect x="1400" y="1223" width="1" height="2" fill="#f59191"/>
<rect x="1403" y="1221" width="1" height="2" fill="#8ca0f0"/>
<rect x="1406" y="1221" width="1" height="2" fill="#8ca0f0"/>
<rect x="1409" y="1221" width="1" height="2" fill="#8ca0f0"/>
<rect x="1412" y="1223" width="1" height="2" fill="#f59191"/>
<rect x="1415" y="1223" width="1" height="2" fill="#f59191"/>
<rect x="1418" y="1223" width="1" height="2" fill="#f59191"/>
<rect x="1425" y="1223" width="1" height="3" fill="#f59191"/>
<rect x="1428" y="1223" width="1" height="3" fill="#f59191"/>
<rect x="1431" y="1223" width="1" height="3" fill="#f59191"/>
<rect x="1434" y="1222" width="1" height="1" fill="#8ca0f0"/>
<rect x="1437" y="1222" width="1" height="1" fill="#8ca0f0"/>
<rect x="1450" y="1223" width="1" height="10" fill="#f59191"/>
<rect x="1453" y="1223" width="1" height="10" fill="#f59191"/>
<rect x="1465" y="1222" width="1" height="1" fill="#8ca0f0"/>
<rect x="1468" y="1223" width="1" height="1" fill="#f59191"/>
<rect x="1472" y="1223" width="1" height="1" fill="#f59191"/>
<rect x="1475" y="1223" width="1" height="1" fill="#f59191"/>
<rect x="1478" y="1223" width="1" height="1" fill="#f59191"/>
<rect x="1481" y="1223" width="1" height="1" fill="#f59191"/>
<rect x="1484" y="1223" width="1" height="1" fill="#f59191"/>
<rect x="1487" y="1216" width="1" height="7" fill="#8ca0f0"/>
<rect x="1490" y="1216" width="1" height="7" fill="#8ca0f0"/>
<rect x="1493" y="1216" width="1" height="7" fill="#8ca0f0"/>
<rect x="1506" y="1223" width="1" height="3" fill="#f59191"/>
<rect x="1509" y="1223" width="1" height="3" fill="#f59191"/>
<rect x="1512" y="1218" width="1" height="5" fill="#8ca0f0"/>
<rect x="1515" y="1218" width="1" height="5" fill="#8ca0f0"/>
<rect x="1518" y="1218" width="1" height="5" fill="#8ca0f0"/>
<rect x="1522" y="1218" width="1" height="5" fill="#8ca0f0"/>
<rect x="1525" y="1218" width="1" height="5" fill="#8ca0f0"/>
<rect x="1528" y="1218" width="1" height="5" fill="#8ca0f0"/>
<rect x="1531" y="1218" width="1" height="5" fill="#8ca0f0"/>
<rect x="1534" y="1223" width="1" height="1" fill="#f59191"/>
<rect x="1537" y="1223" width="1" height="1" fill="#f59191"/>
<rect x="1540" y="1222" width="1" height="1" fill="#8ca0f0"/>
<rect x="1550" y="1220" width="1" height="3" fill="#8ca0f0"/>
<rect x="1553" y="1220" width="1" height="3" fill="#8ca0f0"/>
<rect x="1578" y="1223" width="1" height="1" fill="#f59191"/>
<rect x="1581" y="1223" width="1" height="1" fill="#f59191"/>
<rect x="1584" y="1223" width="1" height="1" fill="#f59191"/>
<rect x="1587" y="1223" width="1" height="1" fill="#f59191"/>
<rect x="1590" y="1223" width="1" height="1" fill="#f59191"/>
<rect x="1593" y="1223" width="1" height="1" fill="#f59191"/>
<rect x="1609" y="1214" width="1" height="9" fill="#8ca0f0"/>
<rect x="1612" y="1214" width="1" height="9" fill="#8ca0f0"/>
<rect x="1615" y="1223" width="1" height="1" fill="#f59191"/>
<rect x="1618" y="1223" width="1" height="1" fill="#f59191"/>
<rect x="1621" y="1223" width="1" height="1" fill="#f59191"/>
<rect x="1625" y="1222" width="1" height="1" fill="#8ca0f0"/>
<rect x="1628" y="1222" width="1" height="1" fill="#8ca0f0"/>
<rect x="1631" y="1222" width="1" height="1" fill="#8ca0f0"/>
<rect x="1634" y="1222" width="1" height="1" fill="#8ca0f0"/>
<rect x="1637" y="1223" width="1" height="1" fill="#f59191"/>
<rect x="1640" y="1223" width="1" height="1" fill="#f59191"/>
<rect x="1643" y="1223" width="1" height="1" fill="#f59191"/>
<rect x="1646" y="1223" width="1" height="2" fill="#8ca0f0"/>
<rect x="1650" y="1223" width="1" height="2" fill="#8ca0f0"/>
<rect x="1653" y="1223" width="1" height="2" fill="#8ca0f0"/>
<rect x="1656" y="1223" width="1" height="2" fill="#8ca0f0"/>
<rect x="1659" y="1222" width="1" height="1" fill="#f59191"/>
<rect x="1662" y="1222" width="1" height="1" fill="#f59191"/>
<rect x="1671" y="1222" width="1" height="1" fill="#8ca0f0"/>
<rect x="1675" y="1222" width="1" height="1" fill="#8ca0f0"/>
<rect x="1678" y="1222" width="1" height="1" fill="#8ca0f0"/>
<rect x="1681" y="1222" width="1" height="1" fill="#8ca0f0"/>
<rect x="1684" y="1222" width="1" height="1" fill="#8ca0f0"/>
<rect x="1687" y="1223" width="1" height="1" fill="#f59191"/>
<rect x="1690" y="1223" width="1" height="1" fill="#f59191"/>
<rect x="1693" y="1223" width="1" height="1" fill="#f59191"/>
<rect x="1696" y="1223" width="1" height="1" fill="#f59191"/>
<rect x="1715" y="1223" width="1" height="1" fill="#f59191"/>
<rect x="1718" y="1222" width="1" height="1" fill="#8ca0f0"/>
<rect x="1721" y="1222" width="1" height="1" fill="#8ca0f0"/>
<rect x="1725" y="1222" width="1" height="1" fill="#8ca0f0"/>
<rect x="1728" y="1222" width="1" height="1" fill="#8ca0f0"/>
<rect x="1731" y="1222" width="1" height="1" fill="#8ca0f0"/>
<rect x="1734" y="1222" width="1" height="1" fill="#8ca0f0"/>
<rect x="1753" y="1222" width="1" height="1" fill="#8ca0f0"/>
<rect x="1756" y="1222" width="1" height="1" fill="#8ca0f0"/>
<rect x="1759" y="1222" width="1" height="1" fill="#8ca0f0"/>
<rect x="1765" y="1217" width="1" height="6" fill="#8ca0f0"/>
<rect x="1768" y="1217" width="1" height="6" fill="#8ca0f0"/>
<rect x="1771" y="1217" width="1" height="6" fill="#8ca0f0"/>
<rect x="1775" y="1217" width="1" height="6" fill="#8ca0f0"/>
<rect x="1778" y="1217" width="1" height="6" fill="#8ca0f0"/>
<rect x="1781" y="1217" width="1" height="6" fill="#8ca0f0"/>
<rect x="1790" y="1221" width="1" height="2" fill="#8ca0f0"/>
<rect x="1793" y="1221" width="1" height="2" fill="#8ca0f0"/>
<rect x="1796" y="1221" width="1" height="2" fill="#8ca0f0"/>
<rect x="1800" y="1221" width="1" height="2" fill="#8ca0f0"/>
<rect x="1803" y="1221" width="1" height="2" fill="#8ca0f0"/>
<rect x="1821" y="1223" width="1" height="1" fill="#f59191"/>
<rect x="1825" y="1223" width="1" height="1" fill="#f59191"/>
<rect x="1828" y="1223" width="1" height="1" fill="#f59191"/>
<rect x="1831" y="1222" width="1" height="1" fill="#8ca0f0"/>
<rect x="1834" y="1222" width="1" height="1" fill="#8ca0f0"/>
<rect x="1837" y="1222" width="1" height="1" fill="#8ca0f0"/>
<rect x="1840" y="1222" width="1" height="1" fill="#8ca0f0"/>
<rect x="1843" y="1223" width="1" height="2" fill="#f59191"/>
<rect x="1846" y="1223" width="1" height="2" fill="#f59191"/>
<rect x="1850" y="1219" width="1" height="4" fill="#8ca0f0"/>
<rect x="1853" y="1219" width="1" height="4" fill="#8ca0f0"/>
<rect x="1856" y="1222" width="1" height="1" fill="#f59191"/>
<rect x="1862" y="1223" width="1" height="3" fill="#f59191"/>
<rect x="1865" y="1223" width="1" height="1" fill="#8ca0f0"/>
<rect x="1868" y="1223" width="1" height="1" fill="#8ca0f0"/>
<rect x="1871" y="1223" width="1" height="1" fill="#8ca0f0"/>
<rect x="1875" y="1223" width="1" height="1" fill="#8ca0f0"/>
<rect x="1878" y="1223" width="1" height="1" fill="#f59191"/>
<rect x="1881" y="1223" width="1" height="1" fill="#f59191"/>
<rect x="1884" y="1222" width="1" height="1" fill="#8ca0f0"/>
<rect x="1887" y="1222" width="1" height="1" fill="#8ca0f0"/>
<rect x="1890" y="1222" width="1" height="1" fill="#8ca0f0"/>
<rect x="1915" y="1222" width="1" height="1" fill="#8ca0f0"/>
<rect x="1918" y="1222" width="1" height="1" fill="#8ca0f0"/>
<rect x="1921" y="1222" width="1" height="1" fill="#8ca0f0"/>
<rect x="1925" y="1222" width="1" height="1" fill="#8ca0f0"/>
<rect x="1928" y="1222" width="1" height="1" fill="#8ca0f0"/>
<rect x="1943" y="1216" width="1" height="7" fill="#8ca0f0"/>
<rect x="1946" y="1216" width="1" height="7" fill="#8ca0f0"/>
<rect x="1950" y="1216" width="1" height="7" fill="#8ca0f0"/>
<rect x="1953" y="1223" width="1" height="1" fill="#f59191"/>
<rect x="1956" y="1221" width="1" height="2" fill="#8ca0f0"/>
<rect x="1959" y="1221" width="1" height="2" fill="#8ca0f0"/>
<rect x="1962" y="1221" width="1" height="2" fill="#8ca0f0"/>
<rect x="1965" y="1223" width="1" height="1" fill="#f59191"/>
<rect x="1968" y="1223" width="1" height="1" fill="#f59191"/>
<rect x="1971" y="1223" width="1" height="1" fill="#f59191"/>
<rect x="1974" y="1164" width="1" height="59" fill="#8ca0f0"/>
<rect x="1978" y="1164" width="1" height="59" fill="#8ca0f0"/>
<rect x="1981" y="1164" width="1" height="59" fill="#8ca0f0"/>
<rect x="1984" y="1164" width="1" height="59" fill="#8ca0f0"/>
<rect x="1987" y="1164" width="1" height="59" fill="#8ca0f0"/>
<rect x="1990" y="1164" width="1" height="59" fill="#8ca0f0"/>
<rect x="1993" y="1164" width="1" height="59" fill="#8ca0f0"/>
<rect x="1996" y="1164" width="1" height="59" fill="#8ca0f0"/>
<rect x="1999" y="1164" width="1" height="59" fill="#8ca0f0"/>
<rect x="2003" y="1164" width="1" height="59" fill="#8ca0f0"/>
<rect x="2006" y="1223" width="1" height="1" fill="#f59191"/>
<rect x="2009" y="1216" width="1" height="7" fill="#8ca0f0"/>
<rect x="2012" y="1216" width="1" height="7" fill="#8ca0f0"/>
<rect x="2015" y="1223" width="1" height="6" fill="#f59191"/>
<rect x="2018" y="1223" width="1" height="6" fill="#f59191"/>
<rect x="2021" y="1222" width="1" height="1" fill="#8ca0f0"/>
<rect x="2024" y="1222" width="1" height="1" fill="#8ca0f0"/>
<rect x="2028" y="1223" width="1" height="8" fill="#f59191"/>
<rect x="2031" y="1223" width="1" height="4" fill="#8ca0f0"/>
<rect x="2034" y="1223" width="1" height="1" fill="#f59191"/>
<rect x="2037" y="1223" width="1" height="1" fill="#f59191"/>
<rect x="2043" y="1223" width="1" height="2" fill="#f59191"/>
<rect x="2046" y="1223" width="1" height="2" fill="#f59191"/>
<rect x="2049" y="1223" width="1" height="2" fill="#f59191"/>
<rect x="2053" y="1223" width="1" height="2" fill="#f59191"/>
<rect x="2056" y="1223" width="1" height="2" fill="#f59191"/>
<rect x="2059" y="1223" width="1" height="2" fill="#f59191"/>
<rect x="2062" y="1223" width="1" height="2" fill="#f59191"/>
<rect x="2065" y="1223" width="1" height="4" fill="#8ca0f0"/>
<rect x="2068" y="1223" width="1" height="7" fill="#f59191"/>
<rect x="2081" y="1220" width="1" height="3" fill="#8ca0f0"/>
<rect x="2084" y="1222" width="1" height="1" fill="#f59191"/>
<rect x="2090" y="1223" width="1" height="1" fill="#f59191"/>
<rect x="2093" y="1223" width="1" height="1" fill="#8ca0f0"/>
<rect x="2099" y="1218" width="1" height="5" fill="#8ca0f0"/>
<rect x="2103" y="1218" width="1" height="5" fill="#8ca0f0"/>
<rect x="2106" y="1223" width="1" height="3" fill="#f59191"/>
<rect x="2109" y="1223" width="1" height="3" fill="#f59191"/>
<rect x="2112" y="1223" width="1" height="3" fill="#f59191"/>
<rect x="2115" y="1223" width="1" height="3" fill="#f59191"/>
<rect x="2118" y="1218" width="1" height="5" fill="#8ca0f0"/>
<rect x="2121" y="1218" width="1" height="5" fill="#8ca0f0"/>
<rect x="2124" y="1223" width="1" height="2" fill="#f59191"/>
<rect x="2128" y="1223" width="1" height="2" fill="#f59191"/>
<rect x="2131" y="1210" width="1" height="13" fill="#8ca0f0"/>
<rect x="2134" y="1210" width="1" height="13" fill="#8ca0f0"/>
<rect x="2137" y="1223" width="1" height="15" fill="#f59191"/>
<rect x="2140" y="1223" width="1" height="15" fill="#f59191"/>
<rect x="2143" y="1223" width="1" height="15" fill="#f59191"/>
<rect x="2146" y="1223" width="1" height="15" fill="#f59191"/>
<rect x="2149" y="1223" width="1" height="9" fill="#8ca0f0"/>
<rect x="2153" y="1223" width="1" height="9" fill="#8ca0f0"/>
<rect x="2156" y="1223" width="1" height="4" fill="#f59191"/>
<rect x="2159" y="1223" width="1" height="4" fill="#f59191"/>
<rect x="2162" y="1223" width="1" height="4" fill="#f59191"/>
<rect x="2165" y="1208" width="1" height="15" fill="#8ca0f0"/>
<rect x="2168" y="1208" width="1" height="15" fill="#8ca0f0"/>
<rect x="2171" y="1208" width="1" height="15" fill="#8ca0f0"/>
<rect x="2174" y="1208" width="1" height="15" fill="#8ca0f0"/>
<rect x="2178" y="1208" width="1" height="15" fill="#8ca0f0"/>
<rect x="2181" y="1208" width="1" height="15" fill="#8ca0f0"/>
<rect x="2184" y="1220" width="1" height="3" fill="#f59191"/>
<rect x="2187" y="1223" width="1" height="1" fill="#8ca0f0"/>
<rect x="2190" y="1220" width="1" height="3" fill="#f59191"/>
<rect x="2199" y="1219" width="1" height="4" fill="#8ca0f0"/>
<rect x="2203" y="1223" width="1" height="19" fill="#f59191"/>
<rect x="2206" y="1223" width="1" height="19" fill="#f59191"/>
<rect x="2209" y="1223" width="1" height="19" fill="#f59191"/>
<rect x="2212" y="1223" width="1" height="19" fill="#f59191"/>
<rect x="2215" y="1223" width="1" height="1" fill="#8ca0f0"/>
<rect x="2218" y="1223" width="1" height="8" fill="#f59191"/>
<rect x="2221" y="1223" width="1" height="8" fill="#f59191"/>
<rect x="2224" y="1223" width="1" height="8" fill="#f59191"/>
<rect x="2228" y="1223" width="1" height="8" fill="#f59191"/>
<rect x="2231" y="1207" width="1" height="16" fill="#8ca0f0"/>
<rect x="2234" y="1207" width="1" height="16" fill="#8ca0f0"/>
<rect x="2237" y="1207" width="1" height="16" fill="#8ca0f0"/>
<rect x="2240" y="1223" width="1" height="13" fill="#f59191"/>
<rect x="2243" y="1223" width="1" height="13" fill="#f59191"/>
<rect x="2246" y="1223" width="1" height="13" fill="#f59191"/>
<rect x="2249" y="1223" width="1" height="13" fill="#f59191"/>
<rect x="2253" y="1223" width="1" height="13" fill="#f59191"/>
<rect x="2256" y="1212" width="1" height="11" fill="#8ca0f0"/>
<rect x="2259" y="1212" width="1" height="11" fill="#8ca0f0"/>
<rect x="2262" y="1212" width="1" height="11" fill="#8ca0f0"/>
<rect x="2265" y="1212" width="1" height="11" fill="#8ca0f0"/>
<rect x="2268" y="1223" width="1" height="34" fill="#f59191"/>
<rect x="2271" y="1223" width="1" height="34" fill="#f59191"/>
<rect x="2274" y="1223" width="1" height="34" fill="#f59191"/>
<rect x="2278" y="1223" width="1" height="34" fill="#f59191"/>
<rect x="2281" y="1223" width="1" height="34" fill="#f59191"/>
<rect x="2284" y="1213" width="1" height="10" fill="#8ca0f0"/>
<rect x="2287" y="1213" width="1" height="10" fill="#8ca0f0"/>
<rect x="2290" y="1213" width="1" height="10" fill="#8ca0f0"/>
<rect x="2293" y="1223" width="1" height="19" fill="#f59191"/>
<rect x="2296" y="1223" width="1" height="19" fill="#f59191"/>
<rect x="2299" y="1223" width="1" height="19" fill="#f59191"/>
</g>
<text x="5" y="1298" class="ax">&#169; 2024 NinjaTrader, LLC</text>
<g>
<ellipse cx="2230.5" cy="1346" rx="8.5" ry="6.5" fill="none" stroke="#8d7b6e" stroke-width="1.6"/>
<path d="M2230 1339.5 q3 3 1.5 6.5 q-1.5 3.5 1 7" stroke="#b52025" stroke-width="2.2" fill="none"/>
<path d="M2236 1340 q4.5 5 0 12" stroke="#b52025" stroke-width="1.6" fill="none"/>
<text x="2246" y="1350.6" font-size="12.2px" fill="#8d7b6e" textLength="52.5" lengthAdjust="spacingAndGlyphs">NINJA</text>
<text x="2300.3" y="1350.6" font-size="12.2px" fill="#b52025" textLength="80" lengthAdjust="spacingAndGlyphs" stroke="#b52025" stroke-width="0.45">TRADER</text>
<text x="2381.5" y="1345" font-size="4.5px" fill="#b52025">&#174;</text>
</g>
</svg></body></html>
